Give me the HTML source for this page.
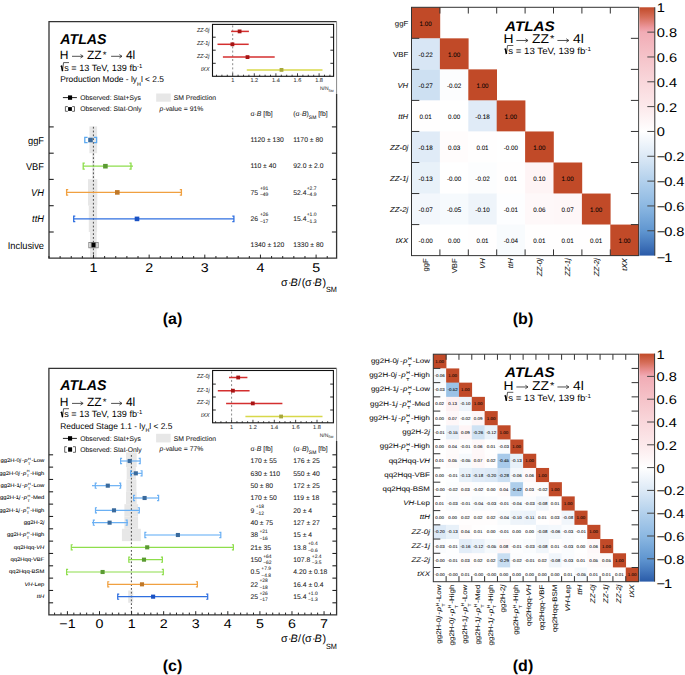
<!DOCTYPE html>
<html><head><meta charset="utf-8"><style>
html,body{margin:0;padding:0;background:#fff;}
svg{display:block;font-family:"Liberation Sans", sans-serif;text-rendering:geometricPrecision;}
</style></head><body>
<svg width="685" height="675" viewBox="0 0 685 675">
<rect x="89.4" y="126.4" width="7.7" height="26.8" fill="#e7e7e7"/>
<rect x="92.3" y="153.2" width="2.2" height="26.2" fill="#e7e7e7"/>
<rect x="88" y="179.2" width="9.3" height="26.4" fill="#e7e7e7"/>
<rect x="88.8" y="205.6" width="8.3" height="26.4" fill="#e7e7e7"/>
<rect x="90" y="232" width="6.7" height="26.2" fill="#e7e7e7"/>
<line x1="93.4" y1="126.8" x2="93.4" y2="258" stroke="#444" stroke-width="0.95" stroke-dasharray="1.8,2.0"/>
<path d="M336.6 94 V258.2 H49 V21.7 H336.6" fill="none" stroke="#333" stroke-width="1.3"/>
<line x1="336.6" y1="21.7" x2="336.6" y2="94" stroke="#888" stroke-width="1.0"/>
<line x1="49" y1="126.9" x2="53.7" y2="126.9" stroke="#222" stroke-width="1.1"/>
<line x1="331.9" y1="126.9" x2="336.6" y2="126.9" stroke="#222" stroke-width="1.1"/>
<line x1="49" y1="153.2" x2="53.7" y2="153.2" stroke="#222" stroke-width="1.1"/>
<line x1="331.9" y1="153.2" x2="336.6" y2="153.2" stroke="#222" stroke-width="1.1"/>
<line x1="49" y1="179.4" x2="53.7" y2="179.4" stroke="#222" stroke-width="1.1"/>
<line x1="331.9" y1="179.4" x2="336.6" y2="179.4" stroke="#222" stroke-width="1.1"/>
<line x1="49" y1="205.7" x2="53.7" y2="205.7" stroke="#222" stroke-width="1.1"/>
<line x1="331.9" y1="205.7" x2="336.6" y2="205.7" stroke="#222" stroke-width="1.1"/>
<line x1="49" y1="232" x2="53.7" y2="232" stroke="#222" stroke-width="1.1"/>
<line x1="331.9" y1="232" x2="336.6" y2="232" stroke="#222" stroke-width="1.1"/>
<line x1="48.98" y1="258.2" x2="48.98" y2="256" stroke="#222" stroke-width="1.0"/>
<line x1="60.11" y1="258.2" x2="60.11" y2="256" stroke="#222" stroke-width="1.0"/>
<line x1="71.24" y1="258.2" x2="71.24" y2="256" stroke="#222" stroke-width="1.0"/>
<line x1="82.37" y1="258.2" x2="82.37" y2="256" stroke="#222" stroke-width="1.0"/>
<line x1="93.5" y1="258.2" x2="93.5" y2="254.6" stroke="#222" stroke-width="1.0"/>
<line x1="104.63" y1="258.2" x2="104.63" y2="256" stroke="#222" stroke-width="1.0"/>
<line x1="115.76" y1="258.2" x2="115.76" y2="256" stroke="#222" stroke-width="1.0"/>
<line x1="126.89" y1="258.2" x2="126.89" y2="256" stroke="#222" stroke-width="1.0"/>
<line x1="138.02" y1="258.2" x2="138.02" y2="256" stroke="#222" stroke-width="1.0"/>
<line x1="149.15" y1="258.2" x2="149.15" y2="254.6" stroke="#222" stroke-width="1.0"/>
<line x1="160.28" y1="258.2" x2="160.28" y2="256" stroke="#222" stroke-width="1.0"/>
<line x1="171.41" y1="258.2" x2="171.41" y2="256" stroke="#222" stroke-width="1.0"/>
<line x1="182.54" y1="258.2" x2="182.54" y2="256" stroke="#222" stroke-width="1.0"/>
<line x1="193.67" y1="258.2" x2="193.67" y2="256" stroke="#222" stroke-width="1.0"/>
<line x1="204.8" y1="258.2" x2="204.8" y2="254.6" stroke="#222" stroke-width="1.0"/>
<line x1="215.93" y1="258.2" x2="215.93" y2="256" stroke="#222" stroke-width="1.0"/>
<line x1="227.06" y1="258.2" x2="227.06" y2="256" stroke="#222" stroke-width="1.0"/>
<line x1="238.19" y1="258.2" x2="238.19" y2="256" stroke="#222" stroke-width="1.0"/>
<line x1="249.32" y1="258.2" x2="249.32" y2="256" stroke="#222" stroke-width="1.0"/>
<line x1="260.45" y1="258.2" x2="260.45" y2="254.6" stroke="#222" stroke-width="1.0"/>
<line x1="271.58" y1="258.2" x2="271.58" y2="256" stroke="#222" stroke-width="1.0"/>
<line x1="282.71" y1="258.2" x2="282.71" y2="256" stroke="#222" stroke-width="1.0"/>
<line x1="293.84" y1="258.2" x2="293.84" y2="256" stroke="#222" stroke-width="1.0"/>
<line x1="304.97" y1="258.2" x2="304.97" y2="256" stroke="#222" stroke-width="1.0"/>
<line x1="316.1" y1="258.2" x2="316.1" y2="254.6" stroke="#222" stroke-width="1.0"/>
<line x1="327.23" y1="258.2" x2="327.23" y2="256" stroke="#222" stroke-width="1.0"/>
<text transform="translate(93.5,271.6) scale(1.13,1)" font-size="12.6" text-anchor="middle">1</text>
<text transform="translate(149.15,271.6) scale(1.13,1)" font-size="12.6" text-anchor="middle">2</text>
<text transform="translate(204.8,271.6) scale(1.13,1)" font-size="12.6" text-anchor="middle">3</text>
<text transform="translate(260.45,271.6) scale(1.13,1)" font-size="12.6" text-anchor="middle">4</text>
<text transform="translate(316.1,271.6) scale(1.13,1)" font-size="12.6" text-anchor="middle">5</text>
<text x="281" y="285.8" font-size="10.8">σ</text>
<text x="287.9" y="285.8" font-size="10.8">·</text>
<text x="290.6" y="285.8" font-size="10.8" font-style="italic">B</text>
<text x="297.9" y="285.8" font-size="10.8">/</text>
<text x="301.8" y="285.8" font-size="10.8">(</text>
<text x="305.1" y="285.8" font-size="10.8">σ</text>
<text x="312" y="285.8" font-size="10.8">·</text>
<text x="314.6" y="285.8" font-size="10.8" font-style="italic">B</text>
<text x="322.5" y="285.8" font-size="10.8">)</text>
<text x="325.9" y="292.2" font-size="7.6" textLength="11.0" lengthAdjust="spacingAndGlyphs">SM</text>
<text transform="translate(44,143.5) scale(0.95,1)" font-size="9.8" text-anchor="end">ggF</text>
<text transform="translate(44,169.8) scale(0.95,1)" font-size="9.8" text-anchor="end">VBF</text>
<text transform="translate(44,196.1) scale(0.95,1)" font-size="9.8" text-anchor="end" font-style="italic">VH</text>
<text transform="translate(44,222.3) scale(0.95,1)" font-size="9.8" text-anchor="end" font-style="italic">ttH</text>
<text transform="translate(44,248.6) scale(0.95,1)" font-size="9.8" text-anchor="end">Inclusive</text>
<line x1="84.8" y1="140" x2="96.6" y2="140" stroke="none" stroke-width="1.3"/>
<path d="M87.6 137.4 H84.8 V142.6 H87.6" fill="none" stroke="#5aa8f0" stroke-width="1.3"/>
<path d="M93.8 137.4 H96.6 V142.6 H93.8" fill="none" stroke="#5aa8f0" stroke-width="1.3"/>
<rect x="88.2" y="137.7" width="4.6" height="4.6" fill="#3a6a9c"/>
<line x1="83.2" y1="166.2" x2="133" y2="166.2" stroke="#8ede4c" stroke-width="1.3"/>
<path d="M84.8 163.2 H83.2 V169.2 H84.8" fill="none" stroke="#8ede4c" stroke-width="1.3"/>
<path d="M129.4 163.2 H131 V169.2 H129.4" fill="none" stroke="#8ede4c" stroke-width="1.3"/>
<rect x="103.1" y="163.9" width="4.6" height="4.6" fill="#5a9a32"/>
<line x1="66.6" y1="192.4" x2="181.4" y2="192.4" stroke="#f0a040" stroke-width="1.3"/>
<path d="M68.2 189.6 H66.6 V195.2 H68.2" fill="none" stroke="#f0a040" stroke-width="1.3"/>
<path d="M179.8 189.6 H181.4 V195.2 H179.8" fill="none" stroke="#f0a040" stroke-width="1.3"/>
<rect x="115" y="190.1" width="4.6" height="4.6" fill="#c07828"/>
<line x1="73.7" y1="218.9" x2="233.9" y2="218.9" stroke="#2f6fe0" stroke-width="1.3"/>
<path d="M75.3 216.1 H73.7 V221.7 H75.3" fill="none" stroke="#2f6fe0" stroke-width="1.3"/>
<path d="M232.3 216.1 H233.9 V221.7 H232.3" fill="none" stroke="#2f6fe0" stroke-width="1.3"/>
<rect x="134.7" y="216.6" width="4.6" height="4.6" fill="#1a52c4"/>
<rect x="88.8" y="242.4" width="9.4" height="5.4" fill="none" stroke="#777" stroke-width="0.8"/>
<path d="M90.2 242.4 V247.8 M96.8 242.4 V247.8" stroke="#999" stroke-width="0.6"/>
<rect x="91.4" y="242.7" width="4.2" height="4.6" fill="#000"/>
<text transform="translate(60.3,43.9) scale(1.0,1)" font-size="14.2" font-weight="bold" font-style="italic">ATLAS</text>
<text transform="translate(59.64,58.8) scale(1.0,1)" font-size="12">H</text>
<path d="M72 56.3 H83.1 M80.5 54.6 L83.1 56.3 L80.5 58" fill="none" stroke="#333" stroke-width="0.85"/>
<text transform="translate(86.96,58.8) scale(1.0,1)" font-size="12">ZZ</text>
<text transform="translate(102.8,57.8) scale(1.0,1)" font-size="9.6">*</text>
<path d="M111.1 56.3 H122 M119.4 54.6 L122 56.3 L119.4 58" fill="none" stroke="#333" stroke-width="0.85"/>
<text transform="translate(125.94,58.8) scale(1.0,1)" font-size="12">4l</text>
<path d="M60.5 66.4 L61.51 65.7 L62.53 71.1 L63.54 62.6 H69.02" fill="none" stroke="#222" stroke-width="0.75" stroke-linejoin="miter"/>
<path d="M61.51 65.7 L62.53 71.1" stroke="#000" stroke-width="1.5"/>
<text transform="translate(64.15,71.3) scale(1.015,1)" font-size="9">s = 13 TeV, 139 fb<tspan font-size="5.85" dy="-3.5">-1</tspan></text>
<text x="60.2" y="82.3" font-size="8.4">Production Mode - l<tspan font-style="normal">y</tspan><tspan font-size="5.4" dy="3.2">H</tspan><tspan dy="-3.2">l &lt; 2.5</tspan></text>
<line x1="62.9" y1="97.6" x2="76.9" y2="97.6" stroke="#222" stroke-width="1.0"/>
<rect x="68" y="95.4" width="4.1" height="4.4" fill="#000"/>
<text x="80.2" y="99.9" font-size="6.8" fill="#222" stroke="#222" stroke-width="0.06">Observed: Stat+Sys</text>
<path d="M67.8 106.6 H65.4 V111.3 H67.8 M72.2 106.6 H74.5 V111.3 H72.2" fill="none" stroke="#555" stroke-width="0.9"/>
<rect x="68.1" y="107.1" width="3.8" height="3.8" fill="#000"/>
<text x="80.2" y="111.2" font-size="6.8" fill="#222" stroke="#222" stroke-width="0.06">Observed: Stat-Only</text>
<rect x="156.2" y="93.5" width="14.5" height="8.2" fill="#e7e7e7"/>
<text x="173.7" y="99.9" font-size="6.8" fill="#222" stroke="#222" stroke-width="0.06">SM Prediction</text>
<text x="159.6" y="111" font-size="6.8" fill="#222" stroke="#222" stroke-width="0.06"><tspan font-style="italic">p</tspan>-value = 91%</text>
<text x="250.4" y="116.2" font-size="6.8" fill="#222" stroke="#222" stroke-width="0.06">σ·<tspan font-style="italic">B</tspan> [fb]</text>
<text x="293.3" y="116.2" font-size="6.8" fill="#222" stroke="#222" stroke-width="0.06">(σ·<tspan font-style="italic">B</tspan>)<tspan font-size="5.0" dy="3.0">SM</tspan><tspan dy="-3.0"> [fb]</tspan></text>
<text x="250.4" y="142.1" font-size="6.8" fill="#222" stroke="#222" stroke-width="0.06">1120 ± 130</text>
<text x="293.3" y="142.1" font-size="6.8" fill="#222" stroke="#222" stroke-width="0.06">1170 ± 80</text>
<text x="250.4" y="168.4" font-size="6.8" fill="#222" stroke="#222" stroke-width="0.06">110 ± 40</text>
<text x="293.3" y="168.4" font-size="6.8" fill="#222" stroke="#222" stroke-width="0.06">92.0 ± 2.0</text>
<text x="250.4" y="247.4" font-size="6.8" fill="#222" stroke="#222" stroke-width="0.06">1340 ± 120</text>
<text x="293.3" y="247.4" font-size="6.8" fill="#222" stroke="#222" stroke-width="0.06">1330 ± 80</text>
<text x="250.4" y="194.8" font-size="6.8" fill="#222" stroke="#222" stroke-width="0.06">75</text>
<text x="259.9" y="189.7" font-size="5" fill="#222" stroke="#222" stroke-width="0.06">+91</text>
<text x="259.9" y="196.4" font-size="5" fill="#222" stroke="#222" stroke-width="0.06">−49</text>
<text x="293.3" y="194.8" font-size="6.8" fill="#222" stroke="#222" stroke-width="0.06">52.4</text>
<text x="306.7" y="189.7" font-size="5" fill="#222" stroke="#222" stroke-width="0.06">+2.7</text>
<text x="306.7" y="196.4" font-size="5" fill="#222" stroke="#222" stroke-width="0.06">−4.9</text>
<text x="250.4" y="221.2" font-size="6.8" fill="#222" stroke="#222" stroke-width="0.06">26</text>
<text x="259.9" y="216.1" font-size="5" fill="#222" stroke="#222" stroke-width="0.06">+26</text>
<text x="259.9" y="222.8" font-size="5" fill="#222" stroke="#222" stroke-width="0.06">−17</text>
<text x="293.3" y="221.2" font-size="6.8" fill="#222" stroke="#222" stroke-width="0.06">15.4</text>
<text x="306.7" y="216.1" font-size="5" fill="#222" stroke="#222" stroke-width="0.06">+1.0</text>
<text x="306.7" y="222.8" font-size="5" fill="#222" stroke="#222" stroke-width="0.06">−1.3</text>
<rect x="212.5" y="24.4" width="121.1" height="51.9" fill="#fff" stroke="#111" stroke-width="1.1"/>
<line x1="232.7" y1="25.4" x2="232.7" y2="75.3" stroke="#8a8a8a" stroke-width="1" stroke-dasharray="2.0,2.2"/>
<line x1="231.1" y1="31.4" x2="248.9" y2="31.4" stroke="#d42f2f" stroke-width="1.5"/>
<rect x="237.7" y="29.5" width="3.8" height="3.8" fill="#a81414"/>
<line x1="217.5" y1="44.3" x2="248.7" y2="44.3" stroke="#d42f2f" stroke-width="1.5"/>
<rect x="230.5" y="42.4" width="3.8" height="3.8" fill="#a81414"/>
<line x1="222.9" y1="57.1" x2="274.7" y2="57.1" stroke="#d42f2f" stroke-width="1.5"/>
<rect x="245.6" y="55.2" width="3.8" height="3.8" fill="#a81414"/>
<line x1="246.8" y1="69.9" x2="322.5" y2="69.9" stroke="#d8d84a" stroke-width="1.5"/>
<rect x="279.6" y="68" width="3.8" height="3.8" fill="#a8a83a"/>
<line x1="212.5" y1="37.2" x2="215.7" y2="37.2" stroke="#111" stroke-width="0.9"/>
<line x1="330.4" y1="37.2" x2="333.6" y2="37.2" stroke="#111" stroke-width="0.9"/>
<line x1="212.5" y1="50.2" x2="215.7" y2="50.2" stroke="#111" stroke-width="0.9"/>
<line x1="330.4" y1="50.2" x2="333.6" y2="50.2" stroke="#111" stroke-width="0.9"/>
<line x1="212.5" y1="63.3" x2="215.7" y2="63.3" stroke="#111" stroke-width="0.9"/>
<line x1="330.4" y1="63.3" x2="333.6" y2="63.3" stroke="#111" stroke-width="0.9"/>
<line x1="216.5" y1="76.3" x2="216.5" y2="74.7" stroke="#111" stroke-width="0.8"/>
<line x1="221.9" y1="76.3" x2="221.9" y2="74.7" stroke="#111" stroke-width="0.8"/>
<line x1="227.3" y1="76.3" x2="227.3" y2="74.7" stroke="#111" stroke-width="0.8"/>
<line x1="232.7" y1="76.3" x2="232.7" y2="73.3" stroke="#111" stroke-width="0.8"/>
<line x1="238.1" y1="76.3" x2="238.1" y2="74.7" stroke="#111" stroke-width="0.8"/>
<line x1="243.5" y1="76.3" x2="243.5" y2="74.7" stroke="#111" stroke-width="0.8"/>
<line x1="248.9" y1="76.3" x2="248.9" y2="74.7" stroke="#111" stroke-width="0.8"/>
<line x1="254.3" y1="76.3" x2="254.3" y2="73.3" stroke="#111" stroke-width="0.8"/>
<line x1="259.7" y1="76.3" x2="259.7" y2="74.7" stroke="#111" stroke-width="0.8"/>
<line x1="265.1" y1="76.3" x2="265.1" y2="74.7" stroke="#111" stroke-width="0.8"/>
<line x1="270.5" y1="76.3" x2="270.5" y2="74.7" stroke="#111" stroke-width="0.8"/>
<line x1="275.9" y1="76.3" x2="275.9" y2="73.3" stroke="#111" stroke-width="0.8"/>
<line x1="281.3" y1="76.3" x2="281.3" y2="74.7" stroke="#111" stroke-width="0.8"/>
<line x1="286.7" y1="76.3" x2="286.7" y2="74.7" stroke="#111" stroke-width="0.8"/>
<line x1="292.1" y1="76.3" x2="292.1" y2="74.7" stroke="#111" stroke-width="0.8"/>
<line x1="297.5" y1="76.3" x2="297.5" y2="73.3" stroke="#111" stroke-width="0.8"/>
<line x1="302.9" y1="76.3" x2="302.9" y2="74.7" stroke="#111" stroke-width="0.8"/>
<line x1="308.3" y1="76.3" x2="308.3" y2="74.7" stroke="#111" stroke-width="0.8"/>
<line x1="313.7" y1="76.3" x2="313.7" y2="74.7" stroke="#111" stroke-width="0.8"/>
<line x1="319.1" y1="76.3" x2="319.1" y2="73.3" stroke="#111" stroke-width="0.8"/>
<line x1="324.5" y1="76.3" x2="324.5" y2="74.7" stroke="#111" stroke-width="0.8"/>
<line x1="329.9" y1="76.3" x2="329.9" y2="74.7" stroke="#111" stroke-width="0.8"/>
<text x="232.7" y="82.2" font-size="5.6" text-anchor="middle" fill="#333" stroke="#333" stroke-width="0.06">1</text>
<text x="254.3" y="82.2" font-size="5.6" text-anchor="middle" fill="#333" stroke="#333" stroke-width="0.06">1.2</text>
<text x="275.9" y="82.2" font-size="5.6" text-anchor="middle" fill="#333" stroke="#333" stroke-width="0.06">1.4</text>
<text x="297.5" y="82.2" font-size="5.6" text-anchor="middle" fill="#333" stroke="#333" stroke-width="0.06">1.6</text>
<text x="319.1" y="82.2" font-size="5.6" text-anchor="middle" fill="#333" stroke="#333" stroke-width="0.06">1.8</text>
<text x="333.6" y="90.3" font-size="5" text-anchor="end" fill="#444" stroke="#444" stroke-width="0.06">N/N<tspan font-size="3.4" dy="1.5">SM</tspan></text>
<text x="209.5" y="32.3" font-size="5.9" text-anchor="end" font-style="italic" fill="#333" textLength="12.6" lengthAdjust="spacingAndGlyphs" stroke="#333" stroke-width="0.06">ZZ-0j</text>
<text x="209.5" y="45.2" font-size="5.9" text-anchor="end" font-style="italic" fill="#333" textLength="12.6" lengthAdjust="spacingAndGlyphs" stroke="#333" stroke-width="0.06">ZZ-1j</text>
<text x="209.5" y="58" font-size="5.9" text-anchor="end" font-style="italic" fill="#333" textLength="12.6" lengthAdjust="spacingAndGlyphs" stroke="#333" stroke-width="0.06">ZZ-2j</text>
<text x="209.5" y="70.8" font-size="5.9" text-anchor="end" font-style="italic" fill="#333" textLength="8.6" lengthAdjust="spacingAndGlyphs" stroke="#333" stroke-width="0.06">tXX</text>
<text x="172.5" y="324.2" font-size="16" text-anchor="middle" font-weight="bold">(a)</text>
<rect x="126" y="452.3" width="10.7" height="14.84" fill="#e7e7e7"/>
<rect x="126.7" y="467.13" width="9.2" height="12.34" fill="#e7e7e7"/>
<rect x="126.3" y="479.47" width="10.1" height="12.34" fill="#e7e7e7"/>
<rect x="126" y="491.8" width="10.7" height="12.34" fill="#e7e7e7"/>
<rect x="124.4" y="504.13" width="13.7" height="12.34" fill="#e7e7e7"/>
<rect x="124.4" y="516.47" width="13.7" height="12.34" fill="#e7e7e7"/>
<rect x="121.9" y="528.8" width="18.9" height="12.34" fill="#e7e7e7"/>
<rect x="128.2" y="590.46" width="5" height="12.34" fill="#e7e7e7"/>
<line x1="131.4" y1="455" x2="131.4" y2="614.5" stroke="#444" stroke-width="0.95" stroke-dasharray="1.8,2.0"/>
<path d="M336.6 441 V614.8 H48.9 V368.4 H336.6" fill="none" stroke="#333" stroke-width="1.3"/>
<line x1="336.6" y1="368.4" x2="336.6" y2="441" stroke="#888" stroke-width="1.0"/>
<line x1="48.9" y1="454.8" x2="53.1" y2="454.8" stroke="#222" stroke-width="1.1"/>
<line x1="332.4" y1="454.8" x2="336.6" y2="454.8" stroke="#222" stroke-width="1.1"/>
<line x1="48.9" y1="467.13" x2="53.1" y2="467.13" stroke="#222" stroke-width="1.1"/>
<line x1="332.4" y1="467.13" x2="336.6" y2="467.13" stroke="#222" stroke-width="1.1"/>
<line x1="48.9" y1="479.47" x2="53.1" y2="479.47" stroke="#222" stroke-width="1.1"/>
<line x1="332.4" y1="479.47" x2="336.6" y2="479.47" stroke="#222" stroke-width="1.1"/>
<line x1="48.9" y1="491.8" x2="53.1" y2="491.8" stroke="#222" stroke-width="1.1"/>
<line x1="332.4" y1="491.8" x2="336.6" y2="491.8" stroke="#222" stroke-width="1.1"/>
<line x1="48.9" y1="504.13" x2="53.1" y2="504.13" stroke="#222" stroke-width="1.1"/>
<line x1="332.4" y1="504.13" x2="336.6" y2="504.13" stroke="#222" stroke-width="1.1"/>
<line x1="48.9" y1="516.47" x2="53.1" y2="516.47" stroke="#222" stroke-width="1.1"/>
<line x1="332.4" y1="516.47" x2="336.6" y2="516.47" stroke="#222" stroke-width="1.1"/>
<line x1="48.9" y1="528.8" x2="53.1" y2="528.8" stroke="#222" stroke-width="1.1"/>
<line x1="332.4" y1="528.8" x2="336.6" y2="528.8" stroke="#222" stroke-width="1.1"/>
<line x1="48.9" y1="541.13" x2="53.1" y2="541.13" stroke="#222" stroke-width="1.1"/>
<line x1="332.4" y1="541.13" x2="336.6" y2="541.13" stroke="#222" stroke-width="1.1"/>
<line x1="48.9" y1="553.46" x2="53.1" y2="553.46" stroke="#222" stroke-width="1.1"/>
<line x1="332.4" y1="553.46" x2="336.6" y2="553.46" stroke="#222" stroke-width="1.1"/>
<line x1="48.9" y1="565.8" x2="53.1" y2="565.8" stroke="#222" stroke-width="1.1"/>
<line x1="332.4" y1="565.8" x2="336.6" y2="565.8" stroke="#222" stroke-width="1.1"/>
<line x1="48.9" y1="578.13" x2="53.1" y2="578.13" stroke="#222" stroke-width="1.1"/>
<line x1="332.4" y1="578.13" x2="336.6" y2="578.13" stroke="#222" stroke-width="1.1"/>
<line x1="48.9" y1="590.46" x2="53.1" y2="590.46" stroke="#222" stroke-width="1.1"/>
<line x1="332.4" y1="590.46" x2="336.6" y2="590.46" stroke="#222" stroke-width="1.1"/>
<line x1="48.9" y1="602.8" x2="53.1" y2="602.8" stroke="#222" stroke-width="1.1"/>
<line x1="332.4" y1="602.8" x2="336.6" y2="602.8" stroke="#222" stroke-width="1.1"/>
<line x1="54.59" y1="614.8" x2="54.59" y2="612.6" stroke="#222" stroke-width="1.0"/>
<line x1="61" y1="614.8" x2="61" y2="612.6" stroke="#222" stroke-width="1.0"/>
<line x1="67.42" y1="614.8" x2="67.42" y2="611.2" stroke="#222" stroke-width="1.0"/>
<line x1="73.84" y1="614.8" x2="73.84" y2="612.6" stroke="#222" stroke-width="1.0"/>
<line x1="80.25" y1="614.8" x2="80.25" y2="612.6" stroke="#222" stroke-width="1.0"/>
<line x1="86.67" y1="614.8" x2="86.67" y2="612.6" stroke="#222" stroke-width="1.0"/>
<line x1="93.08" y1="614.8" x2="93.08" y2="612.6" stroke="#222" stroke-width="1.0"/>
<line x1="99.5" y1="614.8" x2="99.5" y2="611.2" stroke="#222" stroke-width="1.0"/>
<line x1="105.92" y1="614.8" x2="105.92" y2="612.6" stroke="#222" stroke-width="1.0"/>
<line x1="112.33" y1="614.8" x2="112.33" y2="612.6" stroke="#222" stroke-width="1.0"/>
<line x1="118.75" y1="614.8" x2="118.75" y2="612.6" stroke="#222" stroke-width="1.0"/>
<line x1="125.16" y1="614.8" x2="125.16" y2="612.6" stroke="#222" stroke-width="1.0"/>
<line x1="131.58" y1="614.8" x2="131.58" y2="611.2" stroke="#222" stroke-width="1.0"/>
<line x1="138" y1="614.8" x2="138" y2="612.6" stroke="#222" stroke-width="1.0"/>
<line x1="144.41" y1="614.8" x2="144.41" y2="612.6" stroke="#222" stroke-width="1.0"/>
<line x1="150.83" y1="614.8" x2="150.83" y2="612.6" stroke="#222" stroke-width="1.0"/>
<line x1="157.24" y1="614.8" x2="157.24" y2="612.6" stroke="#222" stroke-width="1.0"/>
<line x1="163.66" y1="614.8" x2="163.66" y2="611.2" stroke="#222" stroke-width="1.0"/>
<line x1="170.08" y1="614.8" x2="170.08" y2="612.6" stroke="#222" stroke-width="1.0"/>
<line x1="176.49" y1="614.8" x2="176.49" y2="612.6" stroke="#222" stroke-width="1.0"/>
<line x1="182.91" y1="614.8" x2="182.91" y2="612.6" stroke="#222" stroke-width="1.0"/>
<line x1="189.32" y1="614.8" x2="189.32" y2="612.6" stroke="#222" stroke-width="1.0"/>
<line x1="195.74" y1="614.8" x2="195.74" y2="611.2" stroke="#222" stroke-width="1.0"/>
<line x1="202.16" y1="614.8" x2="202.16" y2="612.6" stroke="#222" stroke-width="1.0"/>
<line x1="208.57" y1="614.8" x2="208.57" y2="612.6" stroke="#222" stroke-width="1.0"/>
<line x1="214.99" y1="614.8" x2="214.99" y2="612.6" stroke="#222" stroke-width="1.0"/>
<line x1="221.4" y1="614.8" x2="221.4" y2="612.6" stroke="#222" stroke-width="1.0"/>
<line x1="227.82" y1="614.8" x2="227.82" y2="611.2" stroke="#222" stroke-width="1.0"/>
<line x1="234.24" y1="614.8" x2="234.24" y2="612.6" stroke="#222" stroke-width="1.0"/>
<line x1="240.65" y1="614.8" x2="240.65" y2="612.6" stroke="#222" stroke-width="1.0"/>
<line x1="247.07" y1="614.8" x2="247.07" y2="612.6" stroke="#222" stroke-width="1.0"/>
<line x1="253.48" y1="614.8" x2="253.48" y2="612.6" stroke="#222" stroke-width="1.0"/>
<line x1="259.9" y1="614.8" x2="259.9" y2="611.2" stroke="#222" stroke-width="1.0"/>
<line x1="266.32" y1="614.8" x2="266.32" y2="612.6" stroke="#222" stroke-width="1.0"/>
<line x1="272.73" y1="614.8" x2="272.73" y2="612.6" stroke="#222" stroke-width="1.0"/>
<line x1="279.15" y1="614.8" x2="279.15" y2="612.6" stroke="#222" stroke-width="1.0"/>
<line x1="285.56" y1="614.8" x2="285.56" y2="612.6" stroke="#222" stroke-width="1.0"/>
<line x1="291.98" y1="614.8" x2="291.98" y2="611.2" stroke="#222" stroke-width="1.0"/>
<line x1="298.4" y1="614.8" x2="298.4" y2="612.6" stroke="#222" stroke-width="1.0"/>
<line x1="304.81" y1="614.8" x2="304.81" y2="612.6" stroke="#222" stroke-width="1.0"/>
<line x1="311.23" y1="614.8" x2="311.23" y2="612.6" stroke="#222" stroke-width="1.0"/>
<line x1="317.64" y1="614.8" x2="317.64" y2="612.6" stroke="#222" stroke-width="1.0"/>
<line x1="324.06" y1="614.8" x2="324.06" y2="611.2" stroke="#222" stroke-width="1.0"/>
<line x1="330.48" y1="614.8" x2="330.48" y2="612.6" stroke="#222" stroke-width="1.0"/>
<text transform="translate(67.42,628.2) scale(1.13,1)" font-size="12.6" text-anchor="middle">−1</text>
<text transform="translate(99.5,628.2) scale(1.13,1)" font-size="12.6" text-anchor="middle">0</text>
<text transform="translate(131.58,628.2) scale(1.13,1)" font-size="12.6" text-anchor="middle">1</text>
<text transform="translate(163.66,628.2) scale(1.13,1)" font-size="12.6" text-anchor="middle">2</text>
<text transform="translate(195.74,628.2) scale(1.13,1)" font-size="12.6" text-anchor="middle">3</text>
<text transform="translate(227.82,628.2) scale(1.13,1)" font-size="12.6" text-anchor="middle">4</text>
<text transform="translate(259.9,628.2) scale(1.13,1)" font-size="12.6" text-anchor="middle">5</text>
<text transform="translate(291.98,628.2) scale(1.13,1)" font-size="12.6" text-anchor="middle">6</text>
<text transform="translate(324.06,628.2) scale(1.13,1)" font-size="12.6" text-anchor="middle">7</text>
<text x="281" y="642.4" font-size="10.8">σ</text>
<text x="287.9" y="642.4" font-size="10.8">·</text>
<text x="290.6" y="642.4" font-size="10.8" font-style="italic">B</text>
<text x="297.9" y="642.4" font-size="10.8">/</text>
<text x="301.8" y="642.4" font-size="10.8">(</text>
<text x="305.1" y="642.4" font-size="10.8">σ</text>
<text x="312" y="642.4" font-size="10.8">·</text>
<text x="314.6" y="642.4" font-size="10.8" font-style="italic">B</text>
<text x="322.5" y="642.4" font-size="10.8">)</text>
<text x="325.9" y="648.8" font-size="7.6" textLength="11.0" lengthAdjust="spacingAndGlyphs">SM</text>
<text transform="translate(44.3,462.2) scale(1.13,1)" font-size="5.2" text-anchor="end" fill="#000" stroke="#000" stroke-width="0.06">gg2H-0<tspan font-style="italic">j</tspan><tspan dx="0.93">-</tspan><tspan dx="0.23" font-style="italic">p</tspan><tspan dx="0.39" font-size="3.34" dy="-2.17">H</tspan><tspan font-size="3.34" dx="-2.37" dy="5.04">T</tspan><tspan dx="1.05" dy="-2.87">-Low</tspan></text>
<text transform="translate(44.3,474.53) scale(1.13,1)" font-size="5.2" text-anchor="end" fill="#000" stroke="#000" stroke-width="0.06">gg2H-0<tspan font-style="italic">j</tspan><tspan dx="0.93">-</tspan><tspan dx="0.23" font-style="italic">p</tspan><tspan dx="0.39" font-size="3.34" dy="-2.17">H</tspan><tspan font-size="3.34" dx="-2.37" dy="5.04">T</tspan><tspan dx="1.05" dy="-2.87">-High</tspan></text>
<text transform="translate(44.3,486.87) scale(1.13,1)" font-size="5.2" text-anchor="end" fill="#000" stroke="#000" stroke-width="0.06">gg2H-1<tspan font-style="italic">j</tspan><tspan dx="0.93">-</tspan><tspan dx="0.23" font-style="italic">p</tspan><tspan dx="0.39" font-size="3.34" dy="-2.17">H</tspan><tspan font-size="3.34" dx="-2.37" dy="5.04">T</tspan><tspan dx="1.05" dy="-2.87">-Low</tspan></text>
<text transform="translate(44.3,499.2) scale(1.13,1)" font-size="5.2" text-anchor="end" fill="#000" stroke="#000" stroke-width="0.06">gg2H-1<tspan font-style="italic">j</tspan><tspan dx="0.93">-</tspan><tspan dx="0.23" font-style="italic">p</tspan><tspan dx="0.39" font-size="3.34" dy="-2.17">H</tspan><tspan font-size="3.34" dx="-2.37" dy="5.04">T</tspan><tspan dx="1.05" dy="-2.87">-Med</tspan></text>
<text transform="translate(44.3,511.53) scale(1.13,1)" font-size="5.2" text-anchor="end" fill="#000" stroke="#000" stroke-width="0.06">gg2H-1<tspan font-style="italic">j</tspan><tspan dx="0.93">-</tspan><tspan dx="0.23" font-style="italic">p</tspan><tspan dx="0.39" font-size="3.34" dy="-2.17">H</tspan><tspan font-size="3.34" dx="-2.37" dy="5.04">T</tspan><tspan dx="1.05" dy="-2.87">-High</tspan></text>
<text transform="translate(44.3,523.87) scale(1.13,1)" font-size="5.2" text-anchor="end" fill="#000" stroke="#000" stroke-width="0.06">gg2H-2<tspan font-style="italic">j</tspan></text>
<text transform="translate(44.3,536.2) scale(1.13,1)" font-size="5.2" text-anchor="end" fill="#000" stroke="#000" stroke-width="0.06">gg2H-<tspan font-style="italic">p</tspan><tspan dx="0.39" font-size="3.34" dy="-2.17">H</tspan><tspan font-size="3.34" dx="-2.37" dy="5.04">T</tspan><tspan dx="1.05" dy="-2.87">-High</tspan></text>
<text transform="translate(44.3,548.53) scale(1.13,1)" font-size="5.2" text-anchor="end" fill="#000" stroke="#000" stroke-width="0.06">qq2Hqq-<tspan font-style="italic">VH</tspan></text>
<text transform="translate(44.3,560.86) scale(1.13,1)" font-size="5.2" text-anchor="end" fill="#000" stroke="#000" stroke-width="0.06">qq2Hqq-VBF</text>
<text transform="translate(44.3,573.2) scale(1.13,1)" font-size="5.2" text-anchor="end" fill="#000" stroke="#000" stroke-width="0.06">qq2Hqq-BSM</text>
<text transform="translate(44.3,585.53) scale(1.13,1)" font-size="5.2" text-anchor="end" fill="#000" stroke="#000" stroke-width="0.06"><tspan font-style="italic">VH</tspan>-Lep</text>
<text transform="translate(44.3,597.86) scale(1.13,1)" font-size="5.2" text-anchor="end" fill="#000" stroke="#000" stroke-width="0.06"><tspan font-style="italic">ttH</tspan></text>
<line x1="120.6" y1="461" x2="140.2" y2="461" stroke="#6ab0f4" stroke-width="1.2"/>
<path d="M122.1 458.4 H120.6 V463.6 H122.1" fill="none" stroke="#6ab0f4" stroke-width="1.2"/>
<path d="M138.7 458.4 H140.2 V463.6 H138.7" fill="none" stroke="#6ab0f4" stroke-width="1.2"/>
<rect x="127.65" y="458.95" width="4.1" height="4.1" fill="#3a6a9c"/>
<line x1="130.6" y1="473.33" x2="142" y2="473.33" stroke="#6ab0f4" stroke-width="1.2"/>
<path d="M132.1 470.73 H130.6 V475.93 H132.1" fill="none" stroke="#6ab0f4" stroke-width="1.2"/>
<path d="M140.5 470.73 H142 V475.93 H140.5" fill="none" stroke="#6ab0f4" stroke-width="1.2"/>
<rect x="133.75" y="471.28" width="4.1" height="4.1" fill="#3a6a9c"/>
<line x1="92" y1="485.67" x2="121.5" y2="485.67" stroke="#6ab0f4" stroke-width="1.2"/>
<path d="M96.8 483.07 H95.3 V488.27 H96.8" fill="none" stroke="#6ab0f4" stroke-width="1.2"/>
<path d="M119.1 483.07 H120.6 V488.27 H119.1" fill="none" stroke="#6ab0f4" stroke-width="1.2"/>
<rect x="105.75" y="483.62" width="4.1" height="4.1" fill="#3a6a9c"/>
<line x1="133.6" y1="498" x2="158.6" y2="498" stroke="#6ab0f4" stroke-width="1.2"/>
<path d="M135.1 495.4 H133.6 V500.6 H135.1" fill="none" stroke="#6ab0f4" stroke-width="1.2"/>
<path d="M157.1 495.4 H158.6 V500.6 H157.1" fill="none" stroke="#6ab0f4" stroke-width="1.2"/>
<rect x="142.55" y="495.95" width="4.1" height="4.1" fill="#3a6a9c"/>
<line x1="95.5" y1="510.33" x2="139.3" y2="510.33" stroke="#6ab0f4" stroke-width="1.2"/>
<path d="M97 507.73 H95.5 V512.93 H97" fill="none" stroke="#6ab0f4" stroke-width="1.2"/>
<path d="M137.8 507.73 H139.3 V512.93 H137.8" fill="none" stroke="#6ab0f4" stroke-width="1.2"/>
<rect x="111.95" y="508.28" width="4.1" height="4.1" fill="#3a6a9c"/>
<line x1="92" y1="522.66" x2="128" y2="522.66" stroke="#6ab0f4" stroke-width="1.2"/>
<path d="M94.9 520.06 H93.4 V525.26 H94.9" fill="none" stroke="#6ab0f4" stroke-width="1.2"/>
<path d="M125.6 520.06 H127.1 V525.26 H125.6" fill="none" stroke="#6ab0f4" stroke-width="1.2"/>
<rect x="107.55" y="520.62" width="4.1" height="4.1" fill="#3a6a9c"/>
<line x1="144.9" y1="535" x2="220.8" y2="535" stroke="#acd4fa" stroke-width="1.9"/>
<path d="M146.4 532.4 H144.9 V537.6 H146.4" fill="none" stroke="#6ab0f4" stroke-width="1.2"/>
<path d="M219.3 532.4 H220.8 V537.6 H219.3" fill="none" stroke="#6ab0f4" stroke-width="1.2"/>
<rect x="175.85" y="532.95" width="4.1" height="4.1" fill="#3a6a9c"/>
<line x1="71.3" y1="547.33" x2="233.4" y2="547.33" stroke="#8ede4c" stroke-width="1.2"/>
<path d="M72.8 544.73 H71.3 V549.93 H72.8" fill="none" stroke="#8ede4c" stroke-width="1.2"/>
<path d="M231.9 544.73 H233.4 V549.93 H231.9" fill="none" stroke="#8ede4c" stroke-width="1.2"/>
<rect x="145.15" y="545.28" width="4.1" height="4.1" fill="#5a9a32"/>
<line x1="128.8" y1="559.66" x2="162.4" y2="559.66" stroke="#8ede4c" stroke-width="1.2"/>
<path d="M130.3 557.06 H128.8 V562.26 H130.3" fill="none" stroke="#8ede4c" stroke-width="1.2"/>
<path d="M160.9 557.06 H162.4 V562.26 H160.9" fill="none" stroke="#8ede4c" stroke-width="1.2"/>
<rect x="141.95" y="557.61" width="4.1" height="4.1" fill="#5a9a32"/>
<line x1="66.6" y1="572" x2="163.3" y2="572" stroke="#8ede4c" stroke-width="1.2"/>
<path d="M68.1 569.4 H66.6 V574.6 H68.1" fill="none" stroke="#8ede4c" stroke-width="1.2"/>
<path d="M161.8 569.4 H163.3 V574.6 H161.8" fill="none" stroke="#8ede4c" stroke-width="1.2"/>
<rect x="100.55" y="569.95" width="4.1" height="4.1" fill="#5a9a32"/>
<line x1="107.8" y1="584.33" x2="197.4" y2="584.33" stroke="#f0a040" stroke-width="1.2"/>
<path d="M109.3 581.73 H107.8 V586.93 H109.3" fill="none" stroke="#f0a040" stroke-width="1.2"/>
<path d="M195.9 581.73 H197.4 V586.93 H195.9" fill="none" stroke="#f0a040" stroke-width="1.2"/>
<rect x="139.95" y="582.28" width="4.1" height="4.1" fill="#c07828"/>
<line x1="117.7" y1="596.66" x2="207.7" y2="596.66" stroke="#2f6fe0" stroke-width="1.2"/>
<path d="M119.2 594.06 H117.7 V599.26 H119.2" fill="none" stroke="#2f6fe0" stroke-width="1.2"/>
<path d="M206.2 594.06 H207.7 V599.26 H206.2" fill="none" stroke="#2f6fe0" stroke-width="1.2"/>
<rect x="151.05" y="594.61" width="4.1" height="4.1" fill="#1a52c4"/>
<text transform="translate(60.3,390.4) scale(1.0,1)" font-size="14.2" font-weight="bold" font-style="italic">ATLAS</text>
<text transform="translate(59.64,405.9) scale(1.0,1)" font-size="12">H</text>
<path d="M72 403.4 H83.1 M80.5 401.7 L83.1 403.4 L80.5 405.1" fill="none" stroke="#333" stroke-width="0.85"/>
<text transform="translate(86.96,405.9) scale(1.0,1)" font-size="12">ZZ</text>
<text transform="translate(102.8,404.9) scale(1.0,1)" font-size="9.6">*</text>
<path d="M111.1 403.4 H122 M119.4 401.7 L122 403.4 L119.4 405.1" fill="none" stroke="#333" stroke-width="0.85"/>
<text transform="translate(125.94,405.9) scale(1.0,1)" font-size="12">4l</text>
<path d="M60.5 412.5 L61.51 411.8 L62.53 417.2 L63.54 408.7 H69.02" fill="none" stroke="#222" stroke-width="0.75" stroke-linejoin="miter"/>
<path d="M61.51 411.8 L62.53 417.2" stroke="#000" stroke-width="1.5"/>
<text transform="translate(64.15,417.4) scale(1.015,1)" font-size="9">s = 13 TeV, 139 fb<tspan font-size="5.85" dy="-3.5">-1</tspan></text>
<text x="60.2" y="428.6" font-size="8.4">Reduced Stage 1.1 - l<tspan font-style="normal">y</tspan><tspan font-size="5.4" dy="3.2">H</tspan><tspan dy="-3.2">l &lt; 2.5</tspan></text>
<line x1="62.9" y1="438.4" x2="76.9" y2="438.4" stroke="#222" stroke-width="1.0"/>
<rect x="68" y="436.2" width="4.1" height="4.4" fill="#000"/>
<text x="80.2" y="440.6" font-size="6.8" fill="#222" stroke="#222" stroke-width="0.06">Observed: Stat+Sys</text>
<path d="M66.8 446.7 H64.7 V452.3 H66.8 M73.0 446.7 H75.5 V452.3 H73.0" fill="none" stroke="#555" stroke-width="0.9"/>
<rect x="68.1" y="447.3" width="4" height="4.4" fill="#000"/>
<text x="80.2" y="451.8" font-size="6.8" fill="#222" stroke="#222" stroke-width="0.06">Observed: Stat-Only</text>
<rect x="156.1" y="433.8" width="14.5" height="8.6" fill="#e7e7e7"/>
<text x="173.7" y="440.6" font-size="6.8" fill="#222" stroke="#222" stroke-width="0.06">SM Prediction</text>
<text x="159.6" y="450.7" font-size="6.8" fill="#222" stroke="#222" stroke-width="0.06"><tspan font-style="italic">p</tspan>-value = 77%</text>
<text x="250.4" y="450.8" font-size="6.8" fill="#222" stroke="#222" stroke-width="0.06">σ·<tspan font-style="italic">B</tspan> [fb]</text>
<text x="293.3" y="450.8" font-size="6.8" fill="#222" stroke="#222" stroke-width="0.06">(σ·<tspan font-style="italic">B</tspan>)<tspan font-size="5.0" dy="3.0">SM</tspan><tspan dy="-3.0"> [fb]</tspan></text>
<text x="250.4" y="463.4" font-size="6.8" fill="#222" stroke="#222" stroke-width="0.06">170 ± 55</text>
<text x="250.4" y="475.73" font-size="6.8" fill="#222" stroke="#222" stroke-width="0.06">630 ± 110</text>
<text x="250.4" y="488.07" font-size="6.8" fill="#222" stroke="#222" stroke-width="0.06">50 ± 80</text>
<text x="250.4" y="500.4" font-size="6.8" fill="#222" stroke="#222" stroke-width="0.06">170 ± 50</text>
<text x="250.4" y="512.73" font-size="6.8" fill="#222" stroke="#222" stroke-width="0.06">9</text>
<text x="255.68" y="508.43" font-size="4.9" fill="#222" stroke="#222" stroke-width="0.06">+18</text>
<text x="255.68" y="515.03" font-size="4.9" fill="#222" stroke="#222" stroke-width="0.06">−12</text>
<text x="250.4" y="525.06" font-size="6.8" fill="#222" stroke="#222" stroke-width="0.06">40 ± 75</text>
<text x="250.4" y="537.4" font-size="6.8" fill="#222" stroke="#222" stroke-width="0.06">38</text>
<text x="259.46" y="533.1" font-size="4.9" fill="#222" stroke="#222" stroke-width="0.06">+21</text>
<text x="259.46" y="539.7" font-size="4.9" fill="#222" stroke="#222" stroke-width="0.06">−16</text>
<text x="250.4" y="549.73" font-size="6.8" fill="#222" stroke="#222" stroke-width="0.06">21± 35</text>
<text x="250.4" y="562.06" font-size="6.8" fill="#222" stroke="#222" stroke-width="0.06">150</text>
<text x="263.24" y="557.76" font-size="4.9" fill="#222" stroke="#222" stroke-width="0.06">+64</text>
<text x="263.24" y="564.36" font-size="4.9" fill="#222" stroke="#222" stroke-width="0.06">−62</text>
<text x="250.4" y="574.4" font-size="6.8" fill="#222" stroke="#222" stroke-width="0.06">0.5</text>
<text x="261.35" y="570.1" font-size="4.9" fill="#222" stroke="#222" stroke-width="0.06">+7.9</text>
<text x="261.35" y="576.7" font-size="4.9" fill="#222" stroke="#222" stroke-width="0.06">−4.8</text>
<text x="250.4" y="586.73" font-size="6.8" fill="#222" stroke="#222" stroke-width="0.06">22</text>
<text x="259.46" y="582.43" font-size="4.9" fill="#222" stroke="#222" stroke-width="0.06">+28</text>
<text x="259.46" y="589.03" font-size="4.9" fill="#222" stroke="#222" stroke-width="0.06">−18</text>
<text x="250.4" y="599.06" font-size="6.8" fill="#222" stroke="#222" stroke-width="0.06">25</text>
<text x="259.46" y="594.76" font-size="4.9" fill="#222" stroke="#222" stroke-width="0.06">+26</text>
<text x="259.46" y="601.36" font-size="4.9" fill="#222" stroke="#222" stroke-width="0.06">−17</text>
<text x="293.3" y="463.4" font-size="6.8" fill="#222" stroke="#222" stroke-width="0.06">176 ± 25</text>
<text x="293.3" y="475.73" font-size="6.8" fill="#222" stroke="#222" stroke-width="0.06">550 ± 40</text>
<text x="293.3" y="488.07" font-size="6.8" fill="#222" stroke="#222" stroke-width="0.06">172 ± 25</text>
<text x="293.3" y="500.4" font-size="6.8" fill="#222" stroke="#222" stroke-width="0.06">119 ± 18</text>
<text x="293.3" y="512.73" font-size="6.8" fill="#222" stroke="#222" stroke-width="0.06">20 ± 4</text>
<text x="293.3" y="525.06" font-size="6.8" fill="#222" stroke="#222" stroke-width="0.06">127 ± 27</text>
<text x="293.3" y="537.4" font-size="6.8" fill="#222" stroke="#222" stroke-width="0.06">15 ± 4</text>
<text x="293.3" y="549.73" font-size="6.8" fill="#222" stroke="#222" stroke-width="0.06">13.8</text>
<text x="308.03" y="545.43" font-size="4.9" fill="#222" stroke="#222" stroke-width="0.06">+0.4</text>
<text x="308.03" y="552.03" font-size="4.9" fill="#222" stroke="#222" stroke-width="0.06">−0.6</text>
<text x="293.3" y="562.06" font-size="6.8" fill="#222" stroke="#222" stroke-width="0.06">107.8</text>
<text x="311.82" y="557.76" font-size="4.9" fill="#222" stroke="#222" stroke-width="0.06">+2.4</text>
<text x="311.82" y="564.36" font-size="4.9" fill="#222" stroke="#222" stroke-width="0.06">−3.5</text>
<text x="293.3" y="574.4" font-size="6.8" fill="#222" stroke="#222" stroke-width="0.06">4.20 ± 0.18</text>
<text x="293.3" y="586.73" font-size="6.8" fill="#222" stroke="#222" stroke-width="0.06">16.4 ± 0.4</text>
<text x="293.3" y="599.06" font-size="6.8" fill="#222" stroke="#222" stroke-width="0.06">15.4</text>
<text x="308.03" y="594.76" font-size="4.9" fill="#222" stroke="#222" stroke-width="0.06">+1.0</text>
<text x="308.03" y="601.36" font-size="4.9" fill="#222" stroke="#222" stroke-width="0.06">−1.3</text>
<rect x="212.6" y="370.5" width="120.8" height="52.3" fill="#fff" stroke="#111" stroke-width="1.1"/>
<line x1="231.6" y1="371.5" x2="231.6" y2="421.8" stroke="#8a8a8a" stroke-width="1" stroke-dasharray="2.0,2.2"/>
<line x1="229" y1="377.5" x2="247.4" y2="377.5" stroke="#d42f2f" stroke-width="1.5"/>
<rect x="236.3" y="375.6" width="3.8" height="3.8" fill="#a81414"/>
<line x1="217.8" y1="390.7" x2="249.6" y2="390.7" stroke="#d42f2f" stroke-width="1.5"/>
<rect x="231" y="388.8" width="3.8" height="3.8" fill="#a81414"/>
<line x1="226.1" y1="403.4" x2="282.4" y2="403.4" stroke="#d42f2f" stroke-width="1.5"/>
<rect x="250.9" y="401.5" width="3.8" height="3.8" fill="#a81414"/>
<line x1="245.4" y1="416.5" x2="322.5" y2="416.5" stroke="#d8d84a" stroke-width="1.5"/>
<rect x="279.2" y="414.6" width="3.8" height="3.8" fill="#a8a83a"/>
<line x1="212.6" y1="384.1" x2="215.8" y2="384.1" stroke="#111" stroke-width="0.9"/>
<line x1="330.2" y1="384.1" x2="333.4" y2="384.1" stroke="#111" stroke-width="0.9"/>
<line x1="212.6" y1="397" x2="215.8" y2="397" stroke="#111" stroke-width="0.9"/>
<line x1="330.2" y1="397" x2="333.4" y2="397" stroke="#111" stroke-width="0.9"/>
<line x1="212.6" y1="410" x2="215.8" y2="410" stroke="#111" stroke-width="0.9"/>
<line x1="330.2" y1="410" x2="333.4" y2="410" stroke="#111" stroke-width="0.9"/>
<line x1="215.59" y1="422.8" x2="215.59" y2="421.2" stroke="#111" stroke-width="0.8"/>
<line x1="220.93" y1="422.8" x2="220.93" y2="421.2" stroke="#111" stroke-width="0.8"/>
<line x1="226.26" y1="422.8" x2="226.26" y2="421.2" stroke="#111" stroke-width="0.8"/>
<line x1="231.6" y1="422.8" x2="231.6" y2="419.8" stroke="#111" stroke-width="0.8"/>
<line x1="236.94" y1="422.8" x2="236.94" y2="421.2" stroke="#111" stroke-width="0.8"/>
<line x1="242.28" y1="422.8" x2="242.28" y2="421.2" stroke="#111" stroke-width="0.8"/>
<line x1="247.61" y1="422.8" x2="247.61" y2="421.2" stroke="#111" stroke-width="0.8"/>
<line x1="252.95" y1="422.8" x2="252.95" y2="419.8" stroke="#111" stroke-width="0.8"/>
<line x1="258.29" y1="422.8" x2="258.29" y2="421.2" stroke="#111" stroke-width="0.8"/>
<line x1="263.62" y1="422.8" x2="263.62" y2="421.2" stroke="#111" stroke-width="0.8"/>
<line x1="268.96" y1="422.8" x2="268.96" y2="421.2" stroke="#111" stroke-width="0.8"/>
<line x1="274.3" y1="422.8" x2="274.3" y2="419.8" stroke="#111" stroke-width="0.8"/>
<line x1="279.64" y1="422.8" x2="279.64" y2="421.2" stroke="#111" stroke-width="0.8"/>
<line x1="284.98" y1="422.8" x2="284.98" y2="421.2" stroke="#111" stroke-width="0.8"/>
<line x1="290.31" y1="422.8" x2="290.31" y2="421.2" stroke="#111" stroke-width="0.8"/>
<line x1="295.65" y1="422.8" x2="295.65" y2="419.8" stroke="#111" stroke-width="0.8"/>
<line x1="300.99" y1="422.8" x2="300.99" y2="421.2" stroke="#111" stroke-width="0.8"/>
<line x1="306.32" y1="422.8" x2="306.32" y2="421.2" stroke="#111" stroke-width="0.8"/>
<line x1="311.66" y1="422.8" x2="311.66" y2="421.2" stroke="#111" stroke-width="0.8"/>
<line x1="317" y1="422.8" x2="317" y2="419.8" stroke="#111" stroke-width="0.8"/>
<line x1="322.34" y1="422.8" x2="322.34" y2="421.2" stroke="#111" stroke-width="0.8"/>
<line x1="327.67" y1="422.8" x2="327.67" y2="421.2" stroke="#111" stroke-width="0.8"/>
<text x="231.6" y="428.7" font-size="5.6" text-anchor="middle" fill="#333" stroke="#333" stroke-width="0.06">1</text>
<text x="252.95" y="428.7" font-size="5.6" text-anchor="middle" fill="#333" stroke="#333" stroke-width="0.06">1.2</text>
<text x="274.3" y="428.7" font-size="5.6" text-anchor="middle" fill="#333" stroke="#333" stroke-width="0.06">1.4</text>
<text x="295.65" y="428.7" font-size="5.6" text-anchor="middle" fill="#333" stroke="#333" stroke-width="0.06">1.6</text>
<text x="317" y="428.7" font-size="5.6" text-anchor="middle" fill="#333" stroke="#333" stroke-width="0.06">1.8</text>
<text x="333.4" y="436.8" font-size="5" text-anchor="end" fill="#444" stroke="#444" stroke-width="0.06">N/N<tspan font-size="3.4" dy="1.5">SM</tspan></text>
<text x="209.6" y="378.4" font-size="5.9" text-anchor="end" font-style="italic" fill="#333" textLength="12.6" lengthAdjust="spacingAndGlyphs" stroke="#333" stroke-width="0.06">ZZ-0j</text>
<text x="209.6" y="391.6" font-size="5.9" text-anchor="end" font-style="italic" fill="#333" textLength="12.6" lengthAdjust="spacingAndGlyphs" stroke="#333" stroke-width="0.06">ZZ-1j</text>
<text x="209.6" y="404.3" font-size="5.9" text-anchor="end" font-style="italic" fill="#333" textLength="12.6" lengthAdjust="spacingAndGlyphs" stroke="#333" stroke-width="0.06">ZZ-2j</text>
<text x="209.6" y="417.4" font-size="5.9" text-anchor="end" font-style="italic" fill="#333" textLength="8.6" lengthAdjust="spacingAndGlyphs" stroke="#333" stroke-width="0.06">tXX</text>
<text x="172.5" y="671.2" font-size="16" text-anchor="middle" font-weight="bold">(c)</text>
<rect x="411.5" y="7.3" width="28.7" height="31.34" fill="#c14a28"/>
<rect x="411.5" y="38.34" width="28.7" height="31.34" fill="#d8e6f5"/>
<rect x="439.9" y="38.34" width="28.7" height="31.34" fill="#c14a28"/>
<rect x="411.5" y="69.38" width="28.7" height="31.34" fill="#cde0f2"/>
<rect x="439.9" y="69.38" width="28.7" height="31.34" fill="#fcfdfe"/>
<rect x="468.3" y="69.38" width="28.7" height="31.34" fill="#c14a28"/>
<rect x="411.5" y="100.42" width="28.7" height="31.34" fill="#fffefe"/>
<rect x="439.9" y="100.42" width="28.7" height="31.34" fill="#ffffff"/>
<rect x="468.3" y="100.42" width="28.7" height="31.34" fill="#e0ebf7"/>
<rect x="496.7" y="100.42" width="28.7" height="31.34" fill="#c14a28"/>
<rect x="411.5" y="131.46" width="28.7" height="31.34" fill="#e0ebf7"/>
<rect x="439.9" y="131.46" width="28.7" height="31.34" fill="#fffcfc"/>
<rect x="468.3" y="131.46" width="28.7" height="31.34" fill="#fffefe"/>
<rect x="496.7" y="131.46" width="28.7" height="31.34" fill="#ffffff"/>
<rect x="525.1" y="131.46" width="28.7" height="31.34" fill="#c14a28"/>
<rect x="411.5" y="162.5" width="28.7" height="31.34" fill="#e8f1f9"/>
<rect x="439.9" y="162.5" width="28.7" height="31.34" fill="#ffffff"/>
<rect x="468.3" y="162.5" width="28.7" height="31.34" fill="#fcfdfe"/>
<rect x="496.7" y="162.5" width="28.7" height="31.34" fill="#fffefe"/>
<rect x="525.1" y="162.5" width="28.7" height="31.34" fill="#fef4f5"/>
<rect x="553.5" y="162.5" width="28.7" height="31.34" fill="#c14a28"/>
<rect x="411.5" y="193.54" width="28.7" height="31.34" fill="#f3f7fc"/>
<rect x="439.9" y="193.54" width="28.7" height="31.34" fill="#f6fafd"/>
<rect x="468.3" y="193.54" width="28.7" height="31.34" fill="#eef4fa"/>
<rect x="496.7" y="193.54" width="28.7" height="31.34" fill="#fdfeff"/>
<rect x="525.1" y="193.54" width="28.7" height="31.34" fill="#fef8f9"/>
<rect x="553.5" y="193.54" width="28.7" height="31.34" fill="#fef7f8"/>
<rect x="581.9" y="193.54" width="28.7" height="31.34" fill="#c14a28"/>
<rect x="411.5" y="224.58" width="28.7" height="31.34" fill="#ffffff"/>
<rect x="439.9" y="224.58" width="28.7" height="31.34" fill="#ffffff"/>
<rect x="468.3" y="224.58" width="28.7" height="31.34" fill="#fffefe"/>
<rect x="496.7" y="224.58" width="28.7" height="31.34" fill="#f8fbfd"/>
<rect x="525.1" y="224.58" width="28.7" height="31.34" fill="#fffefe"/>
<rect x="553.5" y="224.58" width="28.7" height="31.34" fill="#fffefe"/>
<rect x="581.9" y="224.58" width="28.7" height="31.34" fill="#fffefe"/>
<rect x="610.3" y="224.58" width="28.7" height="31.34" fill="#c14a28"/>
<rect x="411.5" y="7.3" width="227.2" height="248.32" fill="none" stroke="#333" stroke-width="1.0"/>
<line x1="411.5" y1="38.34" x2="419.3" y2="38.34" stroke="#333" stroke-width="1.0"/>
<line x1="630.9" y1="38.34" x2="638.7" y2="38.34" stroke="#333" stroke-width="1.0"/>
<line x1="439.9" y1="7.3" x2="439.9" y2="13.54" stroke="#333" stroke-width="1.0"/>
<line x1="439.9" y1="255.62" x2="439.9" y2="249.38" stroke="#333" stroke-width="1.0"/>
<line x1="411.5" y1="69.38" x2="419.3" y2="69.38" stroke="#333" stroke-width="1.0"/>
<line x1="630.9" y1="69.38" x2="638.7" y2="69.38" stroke="#333" stroke-width="1.0"/>
<line x1="468.3" y1="7.3" x2="468.3" y2="13.54" stroke="#333" stroke-width="1.0"/>
<line x1="468.3" y1="255.62" x2="468.3" y2="249.38" stroke="#333" stroke-width="1.0"/>
<line x1="411.5" y1="100.42" x2="419.3" y2="100.42" stroke="#333" stroke-width="1.0"/>
<line x1="630.9" y1="100.42" x2="638.7" y2="100.42" stroke="#333" stroke-width="1.0"/>
<line x1="496.7" y1="7.3" x2="496.7" y2="13.54" stroke="#333" stroke-width="1.0"/>
<line x1="496.7" y1="255.62" x2="496.7" y2="249.38" stroke="#333" stroke-width="1.0"/>
<line x1="411.5" y1="131.46" x2="419.3" y2="131.46" stroke="#333" stroke-width="1.0"/>
<line x1="630.9" y1="131.46" x2="638.7" y2="131.46" stroke="#333" stroke-width="1.0"/>
<line x1="525.1" y1="7.3" x2="525.1" y2="13.54" stroke="#333" stroke-width="1.0"/>
<line x1="525.1" y1="255.62" x2="525.1" y2="249.38" stroke="#333" stroke-width="1.0"/>
<line x1="411.5" y1="162.5" x2="419.3" y2="162.5" stroke="#333" stroke-width="1.0"/>
<line x1="630.9" y1="162.5" x2="638.7" y2="162.5" stroke="#333" stroke-width="1.0"/>
<line x1="553.5" y1="7.3" x2="553.5" y2="13.54" stroke="#333" stroke-width="1.0"/>
<line x1="553.5" y1="255.62" x2="553.5" y2="249.38" stroke="#333" stroke-width="1.0"/>
<line x1="411.5" y1="193.54" x2="419.3" y2="193.54" stroke="#333" stroke-width="1.0"/>
<line x1="630.9" y1="193.54" x2="638.7" y2="193.54" stroke="#333" stroke-width="1.0"/>
<line x1="581.9" y1="7.3" x2="581.9" y2="13.54" stroke="#333" stroke-width="1.0"/>
<line x1="581.9" y1="255.62" x2="581.9" y2="249.38" stroke="#333" stroke-width="1.0"/>
<line x1="411.5" y1="224.58" x2="419.3" y2="224.58" stroke="#333" stroke-width="1.0"/>
<line x1="630.9" y1="224.58" x2="638.7" y2="224.58" stroke="#333" stroke-width="1.0"/>
<line x1="610.3" y1="7.3" x2="610.3" y2="13.54" stroke="#333" stroke-width="1.0"/>
<line x1="610.3" y1="255.62" x2="610.3" y2="249.38" stroke="#333" stroke-width="1.0"/>
<text transform="translate(425.7,25.72) scale(0.98,1)" font-size="6.4" text-anchor="middle" fill="#000" stroke="#000" stroke-width="0.05">1.00</text>
<text transform="translate(425.7,56.76) scale(0.98,1)" font-size="6.4" text-anchor="middle" fill="#000" stroke="#000" stroke-width="0.05">-0.22</text>
<text transform="translate(454.1,56.76) scale(0.98,1)" font-size="6.4" text-anchor="middle" fill="#000" stroke="#000" stroke-width="0.05">1.00</text>
<text transform="translate(425.7,87.8) scale(0.98,1)" font-size="6.4" text-anchor="middle" fill="#000" stroke="#000" stroke-width="0.05">-0.27</text>
<text transform="translate(454.1,87.8) scale(0.98,1)" font-size="6.4" text-anchor="middle" fill="#000" stroke="#000" stroke-width="0.05">-0.02</text>
<text transform="translate(482.5,87.8) scale(0.98,1)" font-size="6.4" text-anchor="middle" fill="#000" stroke="#000" stroke-width="0.05">1.00</text>
<text transform="translate(425.7,118.84) scale(0.98,1)" font-size="6.4" text-anchor="middle" fill="#000" stroke="#000" stroke-width="0.05">0.01</text>
<text transform="translate(454.1,118.84) scale(0.98,1)" font-size="6.4" text-anchor="middle" fill="#000" stroke="#000" stroke-width="0.05">0.00</text>
<text transform="translate(482.5,118.84) scale(0.98,1)" font-size="6.4" text-anchor="middle" fill="#000" stroke="#000" stroke-width="0.05">-0.18</text>
<text transform="translate(510.9,118.84) scale(0.98,1)" font-size="6.4" text-anchor="middle" fill="#000" stroke="#000" stroke-width="0.05">1.00</text>
<text transform="translate(425.7,149.88) scale(0.98,1)" font-size="6.4" text-anchor="middle" fill="#000" stroke="#000" stroke-width="0.05">-0.18</text>
<text transform="translate(454.1,149.88) scale(0.98,1)" font-size="6.4" text-anchor="middle" fill="#000" stroke="#000" stroke-width="0.05">0.03</text>
<text transform="translate(482.5,149.88) scale(0.98,1)" font-size="6.4" text-anchor="middle" fill="#000" stroke="#000" stroke-width="0.05">0.01</text>
<text transform="translate(510.9,149.88) scale(0.98,1)" font-size="6.4" text-anchor="middle" fill="#000" stroke="#000" stroke-width="0.05">-0.00</text>
<text transform="translate(539.3,149.88) scale(0.98,1)" font-size="6.4" text-anchor="middle" fill="#000" stroke="#000" stroke-width="0.05">1.00</text>
<text transform="translate(425.7,180.92) scale(0.98,1)" font-size="6.4" text-anchor="middle" fill="#000" stroke="#000" stroke-width="0.05">-0.13</text>
<text transform="translate(454.1,180.92) scale(0.98,1)" font-size="6.4" text-anchor="middle" fill="#000" stroke="#000" stroke-width="0.05">-0.00</text>
<text transform="translate(482.5,180.92) scale(0.98,1)" font-size="6.4" text-anchor="middle" fill="#000" stroke="#000" stroke-width="0.05">-0.02</text>
<text transform="translate(510.9,180.92) scale(0.98,1)" font-size="6.4" text-anchor="middle" fill="#000" stroke="#000" stroke-width="0.05">0.01</text>
<text transform="translate(539.3,180.92) scale(0.98,1)" font-size="6.4" text-anchor="middle" fill="#000" stroke="#000" stroke-width="0.05">0.10</text>
<text transform="translate(567.7,180.92) scale(0.98,1)" font-size="6.4" text-anchor="middle" fill="#000" stroke="#000" stroke-width="0.05">1.00</text>
<text transform="translate(425.7,211.96) scale(0.98,1)" font-size="6.4" text-anchor="middle" fill="#000" stroke="#000" stroke-width="0.05">-0.07</text>
<text transform="translate(454.1,211.96) scale(0.98,1)" font-size="6.4" text-anchor="middle" fill="#000" stroke="#000" stroke-width="0.05">-0.05</text>
<text transform="translate(482.5,211.96) scale(0.98,1)" font-size="6.4" text-anchor="middle" fill="#000" stroke="#000" stroke-width="0.05">-0.10</text>
<text transform="translate(510.9,211.96) scale(0.98,1)" font-size="6.4" text-anchor="middle" fill="#000" stroke="#000" stroke-width="0.05">-0.01</text>
<text transform="translate(539.3,211.96) scale(0.98,1)" font-size="6.4" text-anchor="middle" fill="#000" stroke="#000" stroke-width="0.05">0.06</text>
<text transform="translate(567.7,211.96) scale(0.98,1)" font-size="6.4" text-anchor="middle" fill="#000" stroke="#000" stroke-width="0.05">0.07</text>
<text transform="translate(596.1,211.96) scale(0.98,1)" font-size="6.4" text-anchor="middle" fill="#000" stroke="#000" stroke-width="0.05">1.00</text>
<text transform="translate(425.7,243) scale(0.98,1)" font-size="6.4" text-anchor="middle" fill="#000" stroke="#000" stroke-width="0.05">-0.00</text>
<text transform="translate(454.1,243) scale(0.98,1)" font-size="6.4" text-anchor="middle" fill="#000" stroke="#000" stroke-width="0.05">0.00</text>
<text transform="translate(482.5,243) scale(0.98,1)" font-size="6.4" text-anchor="middle" fill="#000" stroke="#000" stroke-width="0.05">0.01</text>
<text transform="translate(510.9,243) scale(0.98,1)" font-size="6.4" text-anchor="middle" fill="#000" stroke="#000" stroke-width="0.05">-0.04</text>
<text transform="translate(539.3,243) scale(0.98,1)" font-size="6.4" text-anchor="middle" fill="#000" stroke="#000" stroke-width="0.05">0.01</text>
<text transform="translate(567.7,243) scale(0.98,1)" font-size="6.4" text-anchor="middle" fill="#000" stroke="#000" stroke-width="0.05">0.01</text>
<text transform="translate(596.1,243) scale(0.98,1)" font-size="6.4" text-anchor="middle" fill="#000" stroke="#000" stroke-width="0.05">0.01</text>
<text transform="translate(624.5,243) scale(0.98,1)" font-size="6.4" text-anchor="middle" fill="#000" stroke="#000" stroke-width="0.05">1.00</text>
<text transform="translate(408.2,26.11) scale(1.08,1)" font-size="7.2" text-anchor="end" fill="#111" stroke="#111" stroke-width="0.06">ggF</text>
<text transform="translate(408.2,57.15) scale(1.08,1)" font-size="7.2" text-anchor="end" fill="#111" stroke="#111" stroke-width="0.06">VBF</text>
<text transform="translate(408.2,88.19) scale(1.08,1)" font-size="7.2" text-anchor="end" fill="#111" stroke="#111" stroke-width="0.06"><tspan font-style="italic">VH</tspan></text>
<text transform="translate(408.2,119.23) scale(1.08,1)" font-size="7.2" text-anchor="end" fill="#111" stroke="#111" stroke-width="0.06"><tspan font-style="italic">ttH</tspan></text>
<text transform="translate(408.2,150.27) scale(1.08,1)" font-size="7.2" text-anchor="end" fill="#111" stroke="#111" stroke-width="0.06"><tspan font-style="italic">ZZ-0j</tspan></text>
<text transform="translate(408.2,181.31) scale(1.08,1)" font-size="7.2" text-anchor="end" fill="#111" stroke="#111" stroke-width="0.06"><tspan font-style="italic">ZZ-1j</tspan></text>
<text transform="translate(408.2,212.35) scale(1.08,1)" font-size="7.2" text-anchor="end" fill="#111" stroke="#111" stroke-width="0.06"><tspan font-style="italic">ZZ-2j</tspan></text>
<text transform="translate(408.2,243.39) scale(1.08,1)" font-size="7.2" text-anchor="end" fill="#111" stroke="#111" stroke-width="0.06"><tspan font-style="italic">tXX</tspan></text>
<text transform="translate(428.29,258.22) rotate(-90) scale(1.08,1)" font-size="7.2" text-anchor="end" fill="#111" stroke="#111" stroke-width="0.06">ggF</text>
<text transform="translate(456.69,258.22) rotate(-90) scale(1.08,1)" font-size="7.2" text-anchor="end" fill="#111" stroke="#111" stroke-width="0.06">VBF</text>
<text transform="translate(485.09,258.22) rotate(-90) scale(1.08,1)" font-size="7.2" text-anchor="end" fill="#111" stroke="#111" stroke-width="0.06"><tspan font-style="italic">VH</tspan></text>
<text transform="translate(513.49,258.22) rotate(-90) scale(1.08,1)" font-size="7.2" text-anchor="end" fill="#111" stroke="#111" stroke-width="0.06"><tspan font-style="italic">ttH</tspan></text>
<text transform="translate(541.89,258.22) rotate(-90) scale(1.08,1)" font-size="7.2" text-anchor="end" fill="#111" stroke="#111" stroke-width="0.06"><tspan font-style="italic">ZZ-0j</tspan></text>
<text transform="translate(570.29,258.22) rotate(-90) scale(1.08,1)" font-size="7.2" text-anchor="end" fill="#111" stroke="#111" stroke-width="0.06"><tspan font-style="italic">ZZ-1j</tspan></text>
<text transform="translate(598.69,258.22) rotate(-90) scale(1.08,1)" font-size="7.2" text-anchor="end" fill="#111" stroke="#111" stroke-width="0.06"><tspan font-style="italic">ZZ-2j</tspan></text>
<text transform="translate(627.09,258.22) rotate(-90) scale(1.08,1)" font-size="7.2" text-anchor="end" fill="#111" stroke="#111" stroke-width="0.06"><tspan font-style="italic">tXX</tspan></text>
<defs><linearGradient id="gb" x1="0" y1="0" x2="0" y2="1"><stop offset="0%" stop-color="#c14a28"/><stop offset="4%" stop-color="#d66e5a"/><stop offset="8%" stop-color="#ec969b"/><stop offset="10%" stop-color="#f1acb5"/><stop offset="20%" stop-color="#f5c3c9"/><stop offset="30%" stop-color="#f9d7db"/><stop offset="40%" stop-color="#fce9eb"/><stop offset="50%" stop-color="#ffffff"/><stop offset="60%" stop-color="#dce9f6"/><stop offset="70%" stop-color="#b2d0ec"/><stop offset="80%" stop-color="#8cb8e2"/><stop offset="90%" stop-color="#6096d0"/><stop offset="95%" stop-color="#467abe"/><stop offset="100%" stop-color="#2a5ba8"/></linearGradient></defs>
<rect x="639.4" y="7.3" width="15.4" height="248.3" fill="url(#gb)"/>
<line x1="654.8" y1="7.3" x2="654.8" y2="255.6" stroke="#333" stroke-width="1.0"/>
<text transform="translate(656.7,12.4) scale(1.16,1)" font-size="12.6">1</text>
<line x1="647.3" y1="32.13" x2="654.8" y2="32.13" stroke="#444" stroke-width="1.0"/>
<text transform="translate(656.7,37.03) scale(1.16,1)" font-size="12.6">0.8</text>
<line x1="647.3" y1="56.96" x2="654.8" y2="56.96" stroke="#444" stroke-width="1.0"/>
<text transform="translate(656.7,61.86) scale(1.16,1)" font-size="12.6">0.6</text>
<line x1="647.3" y1="81.79" x2="654.8" y2="81.79" stroke="#444" stroke-width="1.0"/>
<text transform="translate(656.7,86.69) scale(1.16,1)" font-size="12.6">0.4</text>
<line x1="647.3" y1="106.62" x2="654.8" y2="106.62" stroke="#444" stroke-width="1.0"/>
<text transform="translate(656.7,111.52) scale(1.16,1)" font-size="12.6">0.2</text>
<line x1="647.3" y1="131.45" x2="654.8" y2="131.45" stroke="#444" stroke-width="1.0"/>
<text transform="translate(656.7,136.35) scale(1.16,1)" font-size="12.6">0</text>
<line x1="647.3" y1="156.28" x2="654.8" y2="156.28" stroke="#444" stroke-width="1.0"/>
<text transform="translate(656.7,161.18) scale(1.16,1)" font-size="12.6">−<tspan dx="-0.9">0.2</tspan></text>
<line x1="647.3" y1="181.11" x2="654.8" y2="181.11" stroke="#444" stroke-width="1.0"/>
<text transform="translate(656.7,186.01) scale(1.16,1)" font-size="12.6">−<tspan dx="-0.9">0.4</tspan></text>
<line x1="647.3" y1="205.94" x2="654.8" y2="205.94" stroke="#444" stroke-width="1.0"/>
<text transform="translate(656.7,210.84) scale(1.16,1)" font-size="12.6">−<tspan dx="-0.9">0.6</tspan></text>
<line x1="647.3" y1="230.77" x2="654.8" y2="230.77" stroke="#444" stroke-width="1.0"/>
<text transform="translate(656.7,235.67) scale(1.16,1)" font-size="12.6">−<tspan dx="-0.9">0.8</tspan></text>
<text transform="translate(656.7,261.8) scale(1.16,1)" font-size="12.6">−<tspan dx="-0.9">1</tspan></text>
<text transform="translate(505,30.6) scale(1.09,1)" font-size="14" font-weight="bold" font-style="italic">ATLAS</text>
<text transform="translate(503.39,43.1) scale(1.1,1)" font-size="12.6">H</text>
<path d="M516.37 40.48 H528.02 M525.42 38.77 L528.02 40.48 L525.42 42.18" fill="none" stroke="#333" stroke-width="0.85"/>
<text transform="translate(532.08,43.1) scale(1.1,1)" font-size="12.6">ZZ</text>
<text transform="translate(550.11,42.05) scale(1.1,1)" font-size="10.08">*</text>
<path d="M557.42 40.48 H568.87 M566.27 38.77 L568.87 40.48 L566.27 42.18" fill="none" stroke="#333" stroke-width="0.85"/>
<text transform="translate(573.01,43.1) scale(1.1,1)" font-size="12.6">4l</text>
<path d="M504.3 49.3 L505.37 48.6 L506.44 54 L507.52 45.5 H513.32" fill="none" stroke="#222" stroke-width="0.75" stroke-linejoin="miter"/>
<path d="M505.37 48.6 L506.44 54" stroke="#000" stroke-width="1.5"/>
<text transform="translate(508.16,54.2) scale(1.075,1)" font-size="9">s = 13 TeV, 139 fb<tspan font-size="5.85" dy="-3.5">-1</tspan></text>
<text x="523" y="324.2" font-size="16" text-anchor="middle" font-weight="bold">(b)</text>
<rect x="433.3" y="354.2" width="13.13" height="14.52" fill="#c14a28"/>
<rect x="433.3" y="368.42" width="13.13" height="14.52" fill="#f4f8fc"/>
<rect x="446.13" y="368.42" width="13.13" height="14.52" fill="#c14a28"/>
<rect x="433.3" y="382.64" width="13.13" height="14.52" fill="#fafcfe"/>
<rect x="446.13" y="382.64" width="13.13" height="14.52" fill="#9bc2e6"/>
<rect x="458.96" y="382.64" width="13.13" height="14.52" fill="#c14a28"/>
<rect x="433.3" y="396.86" width="13.13" height="14.52" fill="#fffdfd"/>
<rect x="446.13" y="396.86" width="13.13" height="14.52" fill="#fdf1f2"/>
<rect x="458.96" y="396.86" width="13.13" height="14.52" fill="#eef4fa"/>
<rect x="471.79" y="396.86" width="13.13" height="14.52" fill="#c14a28"/>
<rect x="433.3" y="411.08" width="13.13" height="14.52" fill="#ffffff"/>
<rect x="446.13" y="411.08" width="13.13" height="14.52" fill="#fef7f8"/>
<rect x="458.96" y="411.08" width="13.13" height="14.52" fill="#fcfdfe"/>
<rect x="471.79" y="411.08" width="13.13" height="14.52" fill="#fef5f6"/>
<rect x="484.62" y="411.08" width="13.13" height="14.52" fill="#c14a28"/>
<rect x="433.3" y="425.3" width="13.13" height="14.52" fill="#fdfeff"/>
<rect x="446.13" y="425.3" width="13.13" height="14.52" fill="#e5eef8"/>
<rect x="458.96" y="425.3" width="13.13" height="14.52" fill="#fef5f6"/>
<rect x="471.79" y="425.3" width="13.13" height="14.52" fill="#cfe2f3"/>
<rect x="484.62" y="425.3" width="13.13" height="14.52" fill="#eaf2fa"/>
<rect x="497.45" y="425.3" width="13.13" height="14.52" fill="#c14a28"/>
<rect x="433.3" y="439.52" width="13.13" height="14.52" fill="#ffffff"/>
<rect x="446.13" y="439.52" width="13.13" height="14.52" fill="#fefbfb"/>
<rect x="458.96" y="439.52" width="13.13" height="14.52" fill="#fdfeff"/>
<rect x="471.79" y="439.52" width="13.13" height="14.52" fill="#fef8f9"/>
<rect x="484.62" y="439.52" width="13.13" height="14.52" fill="#fffefe"/>
<rect x="497.45" y="439.52" width="13.13" height="14.52" fill="#fafcfe"/>
<rect x="510.28" y="439.52" width="13.13" height="14.52" fill="#c14a28"/>
<rect x="433.3" y="453.74" width="13.13" height="14.52" fill="#fffefe"/>
<rect x="446.13" y="453.74" width="13.13" height="14.52" fill="#fefafa"/>
<rect x="458.96" y="453.74" width="13.13" height="14.52" fill="#f6fafd"/>
<rect x="471.79" y="453.74" width="13.13" height="14.52" fill="#fef7f8"/>
<rect x="484.62" y="453.74" width="13.13" height="14.52" fill="#fffdfd"/>
<rect x="497.45" y="453.74" width="13.13" height="14.52" fill="#a8caea"/>
<rect x="510.28" y="453.74" width="13.13" height="14.52" fill="#e8f1f9"/>
<rect x="523.11" y="453.74" width="13.13" height="14.52" fill="#c14a28"/>
<rect x="433.3" y="467.96" width="13.13" height="14.52" fill="#ffffff"/>
<rect x="446.13" y="467.96" width="13.13" height="14.52" fill="#fdfeff"/>
<rect x="458.96" y="467.96" width="13.13" height="14.52" fill="#e8f1f9"/>
<rect x="471.79" y="467.96" width="13.13" height="14.52" fill="#e0ebf7"/>
<rect x="484.62" y="467.96" width="13.13" height="14.52" fill="#dce9f6"/>
<rect x="497.45" y="467.96" width="13.13" height="14.52" fill="#cbdff2"/>
<rect x="510.28" y="467.96" width="13.13" height="14.52" fill="#f4f8fc"/>
<rect x="523.11" y="467.96" width="13.13" height="14.52" fill="#fef8f9"/>
<rect x="535.94" y="467.96" width="13.13" height="14.52" fill="#c14a28"/>
<rect x="433.3" y="482.18" width="13.13" height="14.52" fill="#ffffff"/>
<rect x="446.13" y="482.18" width="13.13" height="14.52" fill="#fcfdfe"/>
<rect x="458.96" y="482.18" width="13.13" height="14.52" fill="#fffcfc"/>
<rect x="471.79" y="482.18" width="13.13" height="14.52" fill="#fcfdfe"/>
<rect x="484.62" y="482.18" width="13.13" height="14.52" fill="#ffffff"/>
<rect x="497.45" y="482.18" width="13.13" height="14.52" fill="#fefbfb"/>
<rect x="510.28" y="482.18" width="13.13" height="14.52" fill="#aeceeb"/>
<rect x="523.11" y="482.18" width="13.13" height="14.52" fill="#fffcfc"/>
<rect x="535.94" y="482.18" width="13.13" height="14.52" fill="#fcfdfe"/>
<rect x="548.77" y="482.18" width="13.13" height="14.52" fill="#c14a28"/>
<rect x="433.3" y="496.4" width="13.13" height="14.52" fill="#fffefe"/>
<rect x="446.13" y="496.4" width="13.13" height="14.52" fill="#fafcfe"/>
<rect x="458.96" y="496.4" width="13.13" height="14.52" fill="#fdfeff"/>
<rect x="471.79" y="496.4" width="13.13" height="14.52" fill="#f8fbfd"/>
<rect x="484.62" y="496.4" width="13.13" height="14.52" fill="#fafcfe"/>
<rect x="497.45" y="496.4" width="13.13" height="14.52" fill="#fdfeff"/>
<rect x="510.28" y="496.4" width="13.13" height="14.52" fill="#f8fbfd"/>
<rect x="523.11" y="496.4" width="13.13" height="14.52" fill="#fafcfe"/>
<rect x="535.94" y="496.4" width="13.13" height="14.52" fill="#f1f6fb"/>
<rect x="548.77" y="496.4" width="13.13" height="14.52" fill="#fffefe"/>
<rect x="561.6" y="496.4" width="13.13" height="14.52" fill="#c14a28"/>
<rect x="433.3" y="510.62" width="13.13" height="14.52" fill="#ffffff"/>
<rect x="446.13" y="510.62" width="13.13" height="14.52" fill="#ffffff"/>
<rect x="458.96" y="510.62" width="13.13" height="14.52" fill="#fffdfd"/>
<rect x="471.79" y="510.62" width="13.13" height="14.52" fill="#fffdfd"/>
<rect x="484.62" y="510.62" width="13.13" height="14.52" fill="#fffdfd"/>
<rect x="497.45" y="510.62" width="13.13" height="14.52" fill="#f8fbfd"/>
<rect x="510.28" y="510.62" width="13.13" height="14.52" fill="#eef4fa"/>
<rect x="523.11" y="510.62" width="13.13" height="14.52" fill="#ecf3fa"/>
<rect x="535.94" y="510.62" width="13.13" height="14.52" fill="#fffefe"/>
<rect x="548.77" y="510.62" width="13.13" height="14.52" fill="#fffcfc"/>
<rect x="561.6" y="510.62" width="13.13" height="14.52" fill="#f1f6fb"/>
<rect x="574.43" y="510.62" width="13.13" height="14.52" fill="#c14a28"/>
<rect x="433.3" y="524.84" width="13.13" height="14.52" fill="#dce9f6"/>
<rect x="446.13" y="524.84" width="13.13" height="14.52" fill="#e8f1f9"/>
<rect x="458.96" y="524.84" width="13.13" height="14.52" fill="#fefbfb"/>
<rect x="471.79" y="524.84" width="13.13" height="14.52" fill="#fffefe"/>
<rect x="484.62" y="524.84" width="13.13" height="14.52" fill="#ffffff"/>
<rect x="497.45" y="524.84" width="13.13" height="14.52" fill="#fdfeff"/>
<rect x="510.28" y="524.84" width="13.13" height="14.52" fill="#ffffff"/>
<rect x="523.11" y="524.84" width="13.13" height="14.52" fill="#ffffff"/>
<rect x="535.94" y="524.84" width="13.13" height="14.52" fill="#f1f6fb"/>
<rect x="548.77" y="524.84" width="13.13" height="14.52" fill="#f4f8fc"/>
<rect x="561.6" y="524.84" width="13.13" height="14.52" fill="#fafcfe"/>
<rect x="574.43" y="524.84" width="13.13" height="14.52" fill="#fdfeff"/>
<rect x="587.26" y="524.84" width="13.13" height="14.52" fill="#c14a28"/>
<rect x="433.3" y="539.06" width="13.13" height="14.52" fill="#fafcfe"/>
<rect x="446.13" y="539.06" width="13.13" height="14.52" fill="#fdfeff"/>
<rect x="458.96" y="539.06" width="13.13" height="14.52" fill="#e3edf8"/>
<rect x="471.79" y="539.06" width="13.13" height="14.52" fill="#eaf2fa"/>
<rect x="484.62" y="539.06" width="13.13" height="14.52" fill="#f6fafd"/>
<rect x="497.45" y="539.06" width="13.13" height="14.52" fill="#fef6f7"/>
<rect x="510.28" y="539.06" width="13.13" height="14.52" fill="#fdfeff"/>
<rect x="523.11" y="539.06" width="13.13" height="14.52" fill="#fafcfe"/>
<rect x="535.94" y="539.06" width="13.13" height="14.52" fill="#f1f6fb"/>
<rect x="548.77" y="539.06" width="13.13" height="14.52" fill="#fffefe"/>
<rect x="561.6" y="539.06" width="13.13" height="14.52" fill="#fafcfe"/>
<rect x="574.43" y="539.06" width="13.13" height="14.52" fill="#ffffff"/>
<rect x="587.26" y="539.06" width="13.13" height="14.52" fill="#fef8f9"/>
<rect x="600.09" y="539.06" width="13.13" height="14.52" fill="#c14a28"/>
<rect x="433.3" y="553.28" width="13.13" height="14.52" fill="#ffffff"/>
<rect x="446.13" y="553.28" width="13.13" height="14.52" fill="#fdfeff"/>
<rect x="458.96" y="553.28" width="13.13" height="14.52" fill="#fffcfc"/>
<rect x="471.79" y="553.28" width="13.13" height="14.52" fill="#fffdfd"/>
<rect x="484.62" y="553.28" width="13.13" height="14.52" fill="#fffdfd"/>
<rect x="497.45" y="553.28" width="13.13" height="14.52" fill="#c9def2"/>
<rect x="510.28" y="553.28" width="13.13" height="14.52" fill="#fcfdfe"/>
<rect x="523.11" y="553.28" width="13.13" height="14.52" fill="#fdfeff"/>
<rect x="535.94" y="553.28" width="13.13" height="14.52" fill="#fffdfd"/>
<rect x="548.77" y="553.28" width="13.13" height="14.52" fill="#f1f6fb"/>
<rect x="561.6" y="553.28" width="13.13" height="14.52" fill="#fafcfe"/>
<rect x="574.43" y="553.28" width="13.13" height="14.52" fill="#fffefe"/>
<rect x="587.26" y="553.28" width="13.13" height="14.52" fill="#fefafa"/>
<rect x="600.09" y="553.28" width="13.13" height="14.52" fill="#fefafa"/>
<rect x="612.92" y="553.28" width="13.13" height="14.52" fill="#c14a28"/>
<rect x="433.3" y="567.5" width="13.13" height="14.52" fill="#ffffff"/>
<rect x="446.13" y="567.5" width="13.13" height="14.52" fill="#ffffff"/>
<rect x="458.96" y="567.5" width="13.13" height="14.52" fill="#fffefe"/>
<rect x="471.79" y="567.5" width="13.13" height="14.52" fill="#ffffff"/>
<rect x="484.62" y="567.5" width="13.13" height="14.52" fill="#ffffff"/>
<rect x="497.45" y="567.5" width="13.13" height="14.52" fill="#ffffff"/>
<rect x="510.28" y="567.5" width="13.13" height="14.52" fill="#ffffff"/>
<rect x="523.11" y="567.5" width="13.13" height="14.52" fill="#ffffff"/>
<rect x="535.94" y="567.5" width="13.13" height="14.52" fill="#ffffff"/>
<rect x="548.77" y="567.5" width="13.13" height="14.52" fill="#ffffff"/>
<rect x="561.6" y="567.5" width="13.13" height="14.52" fill="#fffefe"/>
<rect x="574.43" y="567.5" width="13.13" height="14.52" fill="#f6fafd"/>
<rect x="587.26" y="567.5" width="13.13" height="14.52" fill="#fffefe"/>
<rect x="600.09" y="567.5" width="13.13" height="14.52" fill="#fffefe"/>
<rect x="612.92" y="567.5" width="13.13" height="14.52" fill="#fffefe"/>
<rect x="625.75" y="567.5" width="13.13" height="14.52" fill="#c14a28"/>
<rect x="433.3" y="354.2" width="205.28" height="227.52" fill="none" stroke="#333" stroke-width="1.0"/>
<line x1="433.3" y1="368.42" x2="440.3" y2="368.42" stroke="#333" stroke-width="1.0"/>
<line x1="631.58" y1="368.42" x2="638.58" y2="368.42" stroke="#333" stroke-width="1.0"/>
<line x1="446.13" y1="354.2" x2="446.13" y2="359.8" stroke="#333" stroke-width="1.0"/>
<line x1="446.13" y1="581.72" x2="446.13" y2="576.12" stroke="#333" stroke-width="1.0"/>
<line x1="433.3" y1="382.64" x2="440.3" y2="382.64" stroke="#333" stroke-width="1.0"/>
<line x1="631.58" y1="382.64" x2="638.58" y2="382.64" stroke="#333" stroke-width="1.0"/>
<line x1="458.96" y1="354.2" x2="458.96" y2="359.8" stroke="#333" stroke-width="1.0"/>
<line x1="458.96" y1="581.72" x2="458.96" y2="576.12" stroke="#333" stroke-width="1.0"/>
<line x1="433.3" y1="396.86" x2="440.3" y2="396.86" stroke="#333" stroke-width="1.0"/>
<line x1="631.58" y1="396.86" x2="638.58" y2="396.86" stroke="#333" stroke-width="1.0"/>
<line x1="471.79" y1="354.2" x2="471.79" y2="359.8" stroke="#333" stroke-width="1.0"/>
<line x1="471.79" y1="581.72" x2="471.79" y2="576.12" stroke="#333" stroke-width="1.0"/>
<line x1="433.3" y1="411.08" x2="440.3" y2="411.08" stroke="#333" stroke-width="1.0"/>
<line x1="631.58" y1="411.08" x2="638.58" y2="411.08" stroke="#333" stroke-width="1.0"/>
<line x1="484.62" y1="354.2" x2="484.62" y2="359.8" stroke="#333" stroke-width="1.0"/>
<line x1="484.62" y1="581.72" x2="484.62" y2="576.12" stroke="#333" stroke-width="1.0"/>
<line x1="433.3" y1="425.3" x2="440.3" y2="425.3" stroke="#333" stroke-width="1.0"/>
<line x1="631.58" y1="425.3" x2="638.58" y2="425.3" stroke="#333" stroke-width="1.0"/>
<line x1="497.45" y1="354.2" x2="497.45" y2="359.8" stroke="#333" stroke-width="1.0"/>
<line x1="497.45" y1="581.72" x2="497.45" y2="576.12" stroke="#333" stroke-width="1.0"/>
<line x1="433.3" y1="439.52" x2="440.3" y2="439.52" stroke="#333" stroke-width="1.0"/>
<line x1="631.58" y1="439.52" x2="638.58" y2="439.52" stroke="#333" stroke-width="1.0"/>
<line x1="510.28" y1="354.2" x2="510.28" y2="359.8" stroke="#333" stroke-width="1.0"/>
<line x1="510.28" y1="581.72" x2="510.28" y2="576.12" stroke="#333" stroke-width="1.0"/>
<line x1="433.3" y1="453.74" x2="440.3" y2="453.74" stroke="#333" stroke-width="1.0"/>
<line x1="631.58" y1="453.74" x2="638.58" y2="453.74" stroke="#333" stroke-width="1.0"/>
<line x1="523.11" y1="354.2" x2="523.11" y2="359.8" stroke="#333" stroke-width="1.0"/>
<line x1="523.11" y1="581.72" x2="523.11" y2="576.12" stroke="#333" stroke-width="1.0"/>
<line x1="433.3" y1="467.96" x2="440.3" y2="467.96" stroke="#333" stroke-width="1.0"/>
<line x1="631.58" y1="467.96" x2="638.58" y2="467.96" stroke="#333" stroke-width="1.0"/>
<line x1="535.94" y1="354.2" x2="535.94" y2="359.8" stroke="#333" stroke-width="1.0"/>
<line x1="535.94" y1="581.72" x2="535.94" y2="576.12" stroke="#333" stroke-width="1.0"/>
<line x1="433.3" y1="482.18" x2="440.3" y2="482.18" stroke="#333" stroke-width="1.0"/>
<line x1="631.58" y1="482.18" x2="638.58" y2="482.18" stroke="#333" stroke-width="1.0"/>
<line x1="548.77" y1="354.2" x2="548.77" y2="359.8" stroke="#333" stroke-width="1.0"/>
<line x1="548.77" y1="581.72" x2="548.77" y2="576.12" stroke="#333" stroke-width="1.0"/>
<line x1="433.3" y1="496.4" x2="440.3" y2="496.4" stroke="#333" stroke-width="1.0"/>
<line x1="631.58" y1="496.4" x2="638.58" y2="496.4" stroke="#333" stroke-width="1.0"/>
<line x1="561.6" y1="354.2" x2="561.6" y2="359.8" stroke="#333" stroke-width="1.0"/>
<line x1="561.6" y1="581.72" x2="561.6" y2="576.12" stroke="#333" stroke-width="1.0"/>
<line x1="433.3" y1="510.62" x2="440.3" y2="510.62" stroke="#333" stroke-width="1.0"/>
<line x1="631.58" y1="510.62" x2="638.58" y2="510.62" stroke="#333" stroke-width="1.0"/>
<line x1="574.43" y1="354.2" x2="574.43" y2="359.8" stroke="#333" stroke-width="1.0"/>
<line x1="574.43" y1="581.72" x2="574.43" y2="576.12" stroke="#333" stroke-width="1.0"/>
<line x1="433.3" y1="524.84" x2="440.3" y2="524.84" stroke="#333" stroke-width="1.0"/>
<line x1="631.58" y1="524.84" x2="638.58" y2="524.84" stroke="#333" stroke-width="1.0"/>
<line x1="587.26" y1="354.2" x2="587.26" y2="359.8" stroke="#333" stroke-width="1.0"/>
<line x1="587.26" y1="581.72" x2="587.26" y2="576.12" stroke="#333" stroke-width="1.0"/>
<line x1="433.3" y1="539.06" x2="440.3" y2="539.06" stroke="#333" stroke-width="1.0"/>
<line x1="631.58" y1="539.06" x2="638.58" y2="539.06" stroke="#333" stroke-width="1.0"/>
<line x1="600.09" y1="354.2" x2="600.09" y2="359.8" stroke="#333" stroke-width="1.0"/>
<line x1="600.09" y1="581.72" x2="600.09" y2="576.12" stroke="#333" stroke-width="1.0"/>
<line x1="433.3" y1="553.28" x2="440.3" y2="553.28" stroke="#333" stroke-width="1.0"/>
<line x1="631.58" y1="553.28" x2="638.58" y2="553.28" stroke="#333" stroke-width="1.0"/>
<line x1="612.92" y1="354.2" x2="612.92" y2="359.8" stroke="#333" stroke-width="1.0"/>
<line x1="612.92" y1="581.72" x2="612.92" y2="576.12" stroke="#333" stroke-width="1.0"/>
<line x1="433.3" y1="567.5" x2="440.3" y2="567.5" stroke="#333" stroke-width="1.0"/>
<line x1="631.58" y1="567.5" x2="638.58" y2="567.5" stroke="#333" stroke-width="1.0"/>
<line x1="625.75" y1="354.2" x2="625.75" y2="359.8" stroke="#333" stroke-width="1.0"/>
<line x1="625.75" y1="581.72" x2="625.75" y2="576.12" stroke="#333" stroke-width="1.0"/>
<text transform="translate(439.72,362.79) scale(1.1,1)" font-size="4.1" text-anchor="middle" fill="#000" stroke="#000" stroke-width="0.05">1.00</text>
<text transform="translate(439.72,377.01) scale(1.1,1)" font-size="4.1" text-anchor="middle" fill="#000" stroke="#000" stroke-width="0.05">-0.06</text>
<text transform="translate(452.55,377.01) scale(1.1,1)" font-size="4.1" text-anchor="middle" fill="#000" stroke="#000" stroke-width="0.05">1.00</text>
<text transform="translate(439.72,391.23) scale(1.1,1)" font-size="4.1" text-anchor="middle" fill="#000" stroke="#000" stroke-width="0.05">-0.03</text>
<text transform="translate(452.55,391.23) scale(1.1,1)" font-size="4.1" text-anchor="middle" fill="#000" stroke="#000" stroke-width="0.05">-0.52</text>
<text transform="translate(465.38,391.23) scale(1.1,1)" font-size="4.1" text-anchor="middle" fill="#000" stroke="#000" stroke-width="0.05">1.00</text>
<text transform="translate(439.72,405.45) scale(1.1,1)" font-size="4.1" text-anchor="middle" fill="#000" stroke="#000" stroke-width="0.05">0.02</text>
<text transform="translate(452.55,405.45) scale(1.1,1)" font-size="4.1" text-anchor="middle" fill="#000" stroke="#000" stroke-width="0.05">0.13</text>
<text transform="translate(465.38,405.45) scale(1.1,1)" font-size="4.1" text-anchor="middle" fill="#000" stroke="#000" stroke-width="0.05">-0.10</text>
<text transform="translate(478.21,405.45) scale(1.1,1)" font-size="4.1" text-anchor="middle" fill="#000" stroke="#000" stroke-width="0.05">1.00</text>
<text transform="translate(439.72,419.67) scale(1.1,1)" font-size="4.1" text-anchor="middle" fill="#000" stroke="#000" stroke-width="0.05">0.00</text>
<text transform="translate(452.55,419.67) scale(1.1,1)" font-size="4.1" text-anchor="middle" fill="#000" stroke="#000" stroke-width="0.05">0.07</text>
<text transform="translate(465.38,419.67) scale(1.1,1)" font-size="4.1" text-anchor="middle" fill="#000" stroke="#000" stroke-width="0.05">-0.02</text>
<text transform="translate(478.21,419.67) scale(1.1,1)" font-size="4.1" text-anchor="middle" fill="#000" stroke="#000" stroke-width="0.05">0.09</text>
<text transform="translate(491.04,419.67) scale(1.1,1)" font-size="4.1" text-anchor="middle" fill="#000" stroke="#000" stroke-width="0.05">1.00</text>
<text transform="translate(439.72,433.89) scale(1.1,1)" font-size="4.1" text-anchor="middle" fill="#000" stroke="#000" stroke-width="0.05">-0.01</text>
<text transform="translate(452.55,433.89) scale(1.1,1)" font-size="4.1" text-anchor="middle" fill="#000" stroke="#000" stroke-width="0.05">-0.15</text>
<text transform="translate(465.38,433.89) scale(1.1,1)" font-size="4.1" text-anchor="middle" fill="#000" stroke="#000" stroke-width="0.05">0.09</text>
<text transform="translate(478.21,433.89) scale(1.1,1)" font-size="4.1" text-anchor="middle" fill="#000" stroke="#000" stroke-width="0.05">-0.26</text>
<text transform="translate(491.04,433.89) scale(1.1,1)" font-size="4.1" text-anchor="middle" fill="#000" stroke="#000" stroke-width="0.05">-0.12</text>
<text transform="translate(503.87,433.89) scale(1.1,1)" font-size="4.1" text-anchor="middle" fill="#000" stroke="#000" stroke-width="0.05">1.00</text>
<text transform="translate(439.72,448.11) scale(1.1,1)" font-size="4.1" text-anchor="middle" fill="#000" stroke="#000" stroke-width="0.05">0.00</text>
<text transform="translate(452.55,448.11) scale(1.1,1)" font-size="4.1" text-anchor="middle" fill="#000" stroke="#000" stroke-width="0.05">0.04</text>
<text transform="translate(465.38,448.11) scale(1.1,1)" font-size="4.1" text-anchor="middle" fill="#000" stroke="#000" stroke-width="0.05">-0.01</text>
<text transform="translate(478.21,448.11) scale(1.1,1)" font-size="4.1" text-anchor="middle" fill="#000" stroke="#000" stroke-width="0.05">0.06</text>
<text transform="translate(491.04,448.11) scale(1.1,1)" font-size="4.1" text-anchor="middle" fill="#000" stroke="#000" stroke-width="0.05">0.01</text>
<text transform="translate(503.87,448.11) scale(1.1,1)" font-size="4.1" text-anchor="middle" fill="#000" stroke="#000" stroke-width="0.05">-0.03</text>
<text transform="translate(516.7,448.11) scale(1.1,1)" font-size="4.1" text-anchor="middle" fill="#000" stroke="#000" stroke-width="0.05">1.00</text>
<text transform="translate(439.72,462.33) scale(1.1,1)" font-size="4.1" text-anchor="middle" fill="#000" stroke="#000" stroke-width="0.05">0.01</text>
<text transform="translate(452.55,462.33) scale(1.1,1)" font-size="4.1" text-anchor="middle" fill="#000" stroke="#000" stroke-width="0.05">0.05</text>
<text transform="translate(465.38,462.33) scale(1.1,1)" font-size="4.1" text-anchor="middle" fill="#000" stroke="#000" stroke-width="0.05">-0.05</text>
<text transform="translate(478.21,462.33) scale(1.1,1)" font-size="4.1" text-anchor="middle" fill="#000" stroke="#000" stroke-width="0.05">0.07</text>
<text transform="translate(491.04,462.33) scale(1.1,1)" font-size="4.1" text-anchor="middle" fill="#000" stroke="#000" stroke-width="0.05">0.02</text>
<text transform="translate(503.87,462.33) scale(1.1,1)" font-size="4.1" text-anchor="middle" fill="#000" stroke="#000" stroke-width="0.05">-0.45</text>
<text transform="translate(516.7,462.33) scale(1.1,1)" font-size="4.1" text-anchor="middle" fill="#000" stroke="#000" stroke-width="0.05">-0.13</text>
<text transform="translate(529.52,462.33) scale(1.1,1)" font-size="4.1" text-anchor="middle" fill="#000" stroke="#000" stroke-width="0.05">1.00</text>
<text transform="translate(439.72,476.55) scale(1.1,1)" font-size="4.1" text-anchor="middle" fill="#000" stroke="#000" stroke-width="0.05">0.00</text>
<text transform="translate(452.55,476.55) scale(1.1,1)" font-size="4.1" text-anchor="middle" fill="#000" stroke="#000" stroke-width="0.05">-0.01</text>
<text transform="translate(465.38,476.55) scale(1.1,1)" font-size="4.1" text-anchor="middle" fill="#000" stroke="#000" stroke-width="0.05">-0.13</text>
<text transform="translate(478.21,476.55) scale(1.1,1)" font-size="4.1" text-anchor="middle" fill="#000" stroke="#000" stroke-width="0.05">-0.18</text>
<text transform="translate(491.04,476.55) scale(1.1,1)" font-size="4.1" text-anchor="middle" fill="#000" stroke="#000" stroke-width="0.05">-0.20</text>
<text transform="translate(503.87,476.55) scale(1.1,1)" font-size="4.1" text-anchor="middle" fill="#000" stroke="#000" stroke-width="0.05">-0.28</text>
<text transform="translate(516.7,476.55) scale(1.1,1)" font-size="4.1" text-anchor="middle" fill="#000" stroke="#000" stroke-width="0.05">-0.06</text>
<text transform="translate(529.52,476.55) scale(1.1,1)" font-size="4.1" text-anchor="middle" fill="#000" stroke="#000" stroke-width="0.05">0.06</text>
<text transform="translate(542.36,476.55) scale(1.1,1)" font-size="4.1" text-anchor="middle" fill="#000" stroke="#000" stroke-width="0.05">1.00</text>
<text transform="translate(439.72,490.77) scale(1.1,1)" font-size="4.1" text-anchor="middle" fill="#000" stroke="#000" stroke-width="0.05">-0.00</text>
<text transform="translate(452.55,490.77) scale(1.1,1)" font-size="4.1" text-anchor="middle" fill="#000" stroke="#000" stroke-width="0.05">-0.02</text>
<text transform="translate(465.38,490.77) scale(1.1,1)" font-size="4.1" text-anchor="middle" fill="#000" stroke="#000" stroke-width="0.05">0.03</text>
<text transform="translate(478.21,490.77) scale(1.1,1)" font-size="4.1" text-anchor="middle" fill="#000" stroke="#000" stroke-width="0.05">-0.02</text>
<text transform="translate(491.04,490.77) scale(1.1,1)" font-size="4.1" text-anchor="middle" fill="#000" stroke="#000" stroke-width="0.05">0.00</text>
<text transform="translate(503.87,490.77) scale(1.1,1)" font-size="4.1" text-anchor="middle" fill="#000" stroke="#000" stroke-width="0.05">0.04</text>
<text transform="translate(516.7,490.77) scale(1.1,1)" font-size="4.1" text-anchor="middle" fill="#000" stroke="#000" stroke-width="0.05">-0.42</text>
<text transform="translate(529.52,490.77) scale(1.1,1)" font-size="4.1" text-anchor="middle" fill="#000" stroke="#000" stroke-width="0.05">0.03</text>
<text transform="translate(542.36,490.77) scale(1.1,1)" font-size="4.1" text-anchor="middle" fill="#000" stroke="#000" stroke-width="0.05">-0.02</text>
<text transform="translate(555.19,490.77) scale(1.1,1)" font-size="4.1" text-anchor="middle" fill="#000" stroke="#000" stroke-width="0.05">1.00</text>
<text transform="translate(439.72,504.99) scale(1.1,1)" font-size="4.1" text-anchor="middle" fill="#000" stroke="#000" stroke-width="0.05">0.01</text>
<text transform="translate(452.55,504.99) scale(1.1,1)" font-size="4.1" text-anchor="middle" fill="#000" stroke="#000" stroke-width="0.05">-0.03</text>
<text transform="translate(465.38,504.99) scale(1.1,1)" font-size="4.1" text-anchor="middle" fill="#000" stroke="#000" stroke-width="0.05">-0.01</text>
<text transform="translate(478.21,504.99) scale(1.1,1)" font-size="4.1" text-anchor="middle" fill="#000" stroke="#000" stroke-width="0.05">-0.04</text>
<text transform="translate(491.04,504.99) scale(1.1,1)" font-size="4.1" text-anchor="middle" fill="#000" stroke="#000" stroke-width="0.05">-0.03</text>
<text transform="translate(503.87,504.99) scale(1.1,1)" font-size="4.1" text-anchor="middle" fill="#000" stroke="#000" stroke-width="0.05">-0.01</text>
<text transform="translate(516.7,504.99) scale(1.1,1)" font-size="4.1" text-anchor="middle" fill="#000" stroke="#000" stroke-width="0.05">-0.04</text>
<text transform="translate(529.52,504.99) scale(1.1,1)" font-size="4.1" text-anchor="middle" fill="#000" stroke="#000" stroke-width="0.05">-0.03</text>
<text transform="translate(542.36,504.99) scale(1.1,1)" font-size="4.1" text-anchor="middle" fill="#000" stroke="#000" stroke-width="0.05">-0.08</text>
<text transform="translate(555.19,504.99) scale(1.1,1)" font-size="4.1" text-anchor="middle" fill="#000" stroke="#000" stroke-width="0.05">0.01</text>
<text transform="translate(568.01,504.99) scale(1.1,1)" font-size="4.1" text-anchor="middle" fill="#000" stroke="#000" stroke-width="0.05">1.00</text>
<text transform="translate(439.72,519.21) scale(1.1,1)" font-size="4.1" text-anchor="middle" fill="#000" stroke="#000" stroke-width="0.05">0.00</text>
<text transform="translate(452.55,519.21) scale(1.1,1)" font-size="4.1" text-anchor="middle" fill="#000" stroke="#000" stroke-width="0.05">0.00</text>
<text transform="translate(465.38,519.21) scale(1.1,1)" font-size="4.1" text-anchor="middle" fill="#000" stroke="#000" stroke-width="0.05">0.02</text>
<text transform="translate(478.21,519.21) scale(1.1,1)" font-size="4.1" text-anchor="middle" fill="#000" stroke="#000" stroke-width="0.05">0.02</text>
<text transform="translate(491.04,519.21) scale(1.1,1)" font-size="4.1" text-anchor="middle" fill="#000" stroke="#000" stroke-width="0.05">0.02</text>
<text transform="translate(503.87,519.21) scale(1.1,1)" font-size="4.1" text-anchor="middle" fill="#000" stroke="#000" stroke-width="0.05">-0.04</text>
<text transform="translate(516.7,519.21) scale(1.1,1)" font-size="4.1" text-anchor="middle" fill="#000" stroke="#000" stroke-width="0.05">-0.10</text>
<text transform="translate(529.52,519.21) scale(1.1,1)" font-size="4.1" text-anchor="middle" fill="#000" stroke="#000" stroke-width="0.05">-0.11</text>
<text transform="translate(542.36,519.21) scale(1.1,1)" font-size="4.1" text-anchor="middle" fill="#000" stroke="#000" stroke-width="0.05">0.01</text>
<text transform="translate(555.19,519.21) scale(1.1,1)" font-size="4.1" text-anchor="middle" fill="#000" stroke="#000" stroke-width="0.05">0.03</text>
<text transform="translate(568.01,519.21) scale(1.1,1)" font-size="4.1" text-anchor="middle" fill="#000" stroke="#000" stroke-width="0.05">-0.08</text>
<text transform="translate(580.85,519.21) scale(1.1,1)" font-size="4.1" text-anchor="middle" fill="#000" stroke="#000" stroke-width="0.05">1.00</text>
<text transform="translate(439.72,533.43) scale(1.1,1)" font-size="4.1" text-anchor="middle" fill="#000" stroke="#000" stroke-width="0.05">-0.20</text>
<text transform="translate(452.55,533.43) scale(1.1,1)" font-size="4.1" text-anchor="middle" fill="#000" stroke="#000" stroke-width="0.05">-0.13</text>
<text transform="translate(465.38,533.43) scale(1.1,1)" font-size="4.1" text-anchor="middle" fill="#000" stroke="#000" stroke-width="0.05">0.04</text>
<text transform="translate(478.21,533.43) scale(1.1,1)" font-size="4.1" text-anchor="middle" fill="#000" stroke="#000" stroke-width="0.05">0.01</text>
<text transform="translate(491.04,533.43) scale(1.1,1)" font-size="4.1" text-anchor="middle" fill="#000" stroke="#000" stroke-width="0.05">0.00</text>
<text transform="translate(503.87,533.43) scale(1.1,1)" font-size="4.1" text-anchor="middle" fill="#000" stroke="#000" stroke-width="0.05">-0.01</text>
<text transform="translate(516.7,533.43) scale(1.1,1)" font-size="4.1" text-anchor="middle" fill="#000" stroke="#000" stroke-width="0.05">0.00</text>
<text transform="translate(529.52,533.43) scale(1.1,1)" font-size="4.1" text-anchor="middle" fill="#000" stroke="#000" stroke-width="0.05">0.00</text>
<text transform="translate(542.36,533.43) scale(1.1,1)" font-size="4.1" text-anchor="middle" fill="#000" stroke="#000" stroke-width="0.05">-0.08</text>
<text transform="translate(555.19,533.43) scale(1.1,1)" font-size="4.1" text-anchor="middle" fill="#000" stroke="#000" stroke-width="0.05">-0.06</text>
<text transform="translate(568.01,533.43) scale(1.1,1)" font-size="4.1" text-anchor="middle" fill="#000" stroke="#000" stroke-width="0.05">-0.03</text>
<text transform="translate(580.85,533.43) scale(1.1,1)" font-size="4.1" text-anchor="middle" fill="#000" stroke="#000" stroke-width="0.05">-0.01</text>
<text transform="translate(593.67,533.43) scale(1.1,1)" font-size="4.1" text-anchor="middle" fill="#000" stroke="#000" stroke-width="0.05">1.00</text>
<text transform="translate(439.72,547.65) scale(1.1,1)" font-size="4.1" text-anchor="middle" fill="#000" stroke="#000" stroke-width="0.05">-0.03</text>
<text transform="translate(452.55,547.65) scale(1.1,1)" font-size="4.1" text-anchor="middle" fill="#000" stroke="#000" stroke-width="0.05">-0.01</text>
<text transform="translate(465.38,547.65) scale(1.1,1)" font-size="4.1" text-anchor="middle" fill="#000" stroke="#000" stroke-width="0.05">-0.16</text>
<text transform="translate(478.21,547.65) scale(1.1,1)" font-size="4.1" text-anchor="middle" fill="#000" stroke="#000" stroke-width="0.05">-0.12</text>
<text transform="translate(491.04,547.65) scale(1.1,1)" font-size="4.1" text-anchor="middle" fill="#000" stroke="#000" stroke-width="0.05">-0.05</text>
<text transform="translate(503.87,547.65) scale(1.1,1)" font-size="4.1" text-anchor="middle" fill="#000" stroke="#000" stroke-width="0.05">0.08</text>
<text transform="translate(516.7,547.65) scale(1.1,1)" font-size="4.1" text-anchor="middle" fill="#000" stroke="#000" stroke-width="0.05">-0.01</text>
<text transform="translate(529.52,547.65) scale(1.1,1)" font-size="4.1" text-anchor="middle" fill="#000" stroke="#000" stroke-width="0.05">-0.03</text>
<text transform="translate(542.36,547.65) scale(1.1,1)" font-size="4.1" text-anchor="middle" fill="#000" stroke="#000" stroke-width="0.05">-0.08</text>
<text transform="translate(555.19,547.65) scale(1.1,1)" font-size="4.1" text-anchor="middle" fill="#000" stroke="#000" stroke-width="0.05">0.01</text>
<text transform="translate(568.01,547.65) scale(1.1,1)" font-size="4.1" text-anchor="middle" fill="#000" stroke="#000" stroke-width="0.05">-0.03</text>
<text transform="translate(580.85,547.65) scale(1.1,1)" font-size="4.1" text-anchor="middle" fill="#000" stroke="#000" stroke-width="0.05">0.00</text>
<text transform="translate(593.67,547.65) scale(1.1,1)" font-size="4.1" text-anchor="middle" fill="#000" stroke="#000" stroke-width="0.05">0.06</text>
<text transform="translate(606.5,547.65) scale(1.1,1)" font-size="4.1" text-anchor="middle" fill="#000" stroke="#000" stroke-width="0.05">1.00</text>
<text transform="translate(439.72,561.87) scale(1.1,1)" font-size="4.1" text-anchor="middle" fill="#000" stroke="#000" stroke-width="0.05">-0.00</text>
<text transform="translate(452.55,561.87) scale(1.1,1)" font-size="4.1" text-anchor="middle" fill="#000" stroke="#000" stroke-width="0.05">-0.01</text>
<text transform="translate(465.38,561.87) scale(1.1,1)" font-size="4.1" text-anchor="middle" fill="#000" stroke="#000" stroke-width="0.05">0.03</text>
<text transform="translate(478.21,561.87) scale(1.1,1)" font-size="4.1" text-anchor="middle" fill="#000" stroke="#000" stroke-width="0.05">0.02</text>
<text transform="translate(491.04,561.87) scale(1.1,1)" font-size="4.1" text-anchor="middle" fill="#000" stroke="#000" stroke-width="0.05">0.02</text>
<text transform="translate(503.87,561.87) scale(1.1,1)" font-size="4.1" text-anchor="middle" fill="#000" stroke="#000" stroke-width="0.05">-0.29</text>
<text transform="translate(516.7,561.87) scale(1.1,1)" font-size="4.1" text-anchor="middle" fill="#000" stroke="#000" stroke-width="0.05">-0.02</text>
<text transform="translate(529.52,561.87) scale(1.1,1)" font-size="4.1" text-anchor="middle" fill="#000" stroke="#000" stroke-width="0.05">-0.01</text>
<text transform="translate(542.36,561.87) scale(1.1,1)" font-size="4.1" text-anchor="middle" fill="#000" stroke="#000" stroke-width="0.05">0.02</text>
<text transform="translate(555.19,561.87) scale(1.1,1)" font-size="4.1" text-anchor="middle" fill="#000" stroke="#000" stroke-width="0.05">-0.08</text>
<text transform="translate(568.01,561.87) scale(1.1,1)" font-size="4.1" text-anchor="middle" fill="#000" stroke="#000" stroke-width="0.05">-0.03</text>
<text transform="translate(580.85,561.87) scale(1.1,1)" font-size="4.1" text-anchor="middle" fill="#000" stroke="#000" stroke-width="0.05">0.01</text>
<text transform="translate(593.67,561.87) scale(1.1,1)" font-size="4.1" text-anchor="middle" fill="#000" stroke="#000" stroke-width="0.05">0.05</text>
<text transform="translate(606.5,561.87) scale(1.1,1)" font-size="4.1" text-anchor="middle" fill="#000" stroke="#000" stroke-width="0.05">0.05</text>
<text transform="translate(619.34,561.87) scale(1.1,1)" font-size="4.1" text-anchor="middle" fill="#000" stroke="#000" stroke-width="0.05">1.00</text>
<text transform="translate(439.72,576.09) scale(1.1,1)" font-size="4.1" text-anchor="middle" fill="#000" stroke="#000" stroke-width="0.05">-0.00</text>
<text transform="translate(452.55,576.09) scale(1.1,1)" font-size="4.1" text-anchor="middle" fill="#000" stroke="#000" stroke-width="0.05">-0.00</text>
<text transform="translate(465.38,576.09) scale(1.1,1)" font-size="4.1" text-anchor="middle" fill="#000" stroke="#000" stroke-width="0.05">0.01</text>
<text transform="translate(478.21,576.09) scale(1.1,1)" font-size="4.1" text-anchor="middle" fill="#000" stroke="#000" stroke-width="0.05">-0.00</text>
<text transform="translate(491.04,576.09) scale(1.1,1)" font-size="4.1" text-anchor="middle" fill="#000" stroke="#000" stroke-width="0.05">-0.00</text>
<text transform="translate(503.87,576.09) scale(1.1,1)" font-size="4.1" text-anchor="middle" fill="#000" stroke="#000" stroke-width="0.05">0.00</text>
<text transform="translate(516.7,576.09) scale(1.1,1)" font-size="4.1" text-anchor="middle" fill="#000" stroke="#000" stroke-width="0.05">0.00</text>
<text transform="translate(529.52,576.09) scale(1.1,1)" font-size="4.1" text-anchor="middle" fill="#000" stroke="#000" stroke-width="0.05">0.00</text>
<text transform="translate(542.36,576.09) scale(1.1,1)" font-size="4.1" text-anchor="middle" fill="#000" stroke="#000" stroke-width="0.05">0.00</text>
<text transform="translate(555.19,576.09) scale(1.1,1)" font-size="4.1" text-anchor="middle" fill="#000" stroke="#000" stroke-width="0.05">0.00</text>
<text transform="translate(568.01,576.09) scale(1.1,1)" font-size="4.1" text-anchor="middle" fill="#000" stroke="#000" stroke-width="0.05">0.01</text>
<text transform="translate(580.85,576.09) scale(1.1,1)" font-size="4.1" text-anchor="middle" fill="#000" stroke="#000" stroke-width="0.05">-0.05</text>
<text transform="translate(593.67,576.09) scale(1.1,1)" font-size="4.1" text-anchor="middle" fill="#000" stroke="#000" stroke-width="0.05">0.01</text>
<text transform="translate(606.5,576.09) scale(1.1,1)" font-size="4.1" text-anchor="middle" fill="#000" stroke="#000" stroke-width="0.05">0.01</text>
<text transform="translate(619.34,576.09) scale(1.1,1)" font-size="4.1" text-anchor="middle" fill="#000" stroke="#000" stroke-width="0.05">0.01</text>
<text transform="translate(632.16,576.09) scale(1.1,1)" font-size="4.1" text-anchor="middle" fill="#000" stroke="#000" stroke-width="0.05">1.00</text>
<text transform="translate(429.9,363.02) scale(1.18,1)" font-size="6.7" text-anchor="end" fill="#111" stroke="#111" stroke-width="0.06">gg2H-0<tspan font-style="italic">j</tspan><tspan dx="1.2">-</tspan><tspan dx="0.3" font-style="italic">p</tspan><tspan dx="0.5" font-size="4.3" dy="-2.8">H</tspan><tspan font-size="4.3" dx="-3.05" dy="6.5">T</tspan><tspan dx="1.35" dy="-3.7">-Low</tspan></text>
<text transform="translate(429.9,377.24) scale(1.18,1)" font-size="6.7" text-anchor="end" fill="#111" stroke="#111" stroke-width="0.06">gg2H-0<tspan font-style="italic">j</tspan><tspan dx="1.2">-</tspan><tspan dx="0.3" font-style="italic">p</tspan><tspan dx="0.5" font-size="4.3" dy="-2.8">H</tspan><tspan font-size="4.3" dx="-3.05" dy="6.5">T</tspan><tspan dx="1.35" dy="-3.7">-High</tspan></text>
<text transform="translate(429.9,391.46) scale(1.18,1)" font-size="6.7" text-anchor="end" fill="#111" stroke="#111" stroke-width="0.06">gg2H-1<tspan font-style="italic">j</tspan><tspan dx="1.2">-</tspan><tspan dx="0.3" font-style="italic">p</tspan><tspan dx="0.5" font-size="4.3" dy="-2.8">H</tspan><tspan font-size="4.3" dx="-3.05" dy="6.5">T</tspan><tspan dx="1.35" dy="-3.7">-Low</tspan></text>
<text transform="translate(429.9,405.68) scale(1.18,1)" font-size="6.7" text-anchor="end" fill="#111" stroke="#111" stroke-width="0.06">gg2H-1<tspan font-style="italic">j</tspan><tspan dx="1.2">-</tspan><tspan dx="0.3" font-style="italic">p</tspan><tspan dx="0.5" font-size="4.3" dy="-2.8">H</tspan><tspan font-size="4.3" dx="-3.05" dy="6.5">T</tspan><tspan dx="1.35" dy="-3.7">-Med</tspan></text>
<text transform="translate(429.9,419.9) scale(1.18,1)" font-size="6.7" text-anchor="end" fill="#111" stroke="#111" stroke-width="0.06">gg2H-1<tspan font-style="italic">j</tspan><tspan dx="1.2">-</tspan><tspan dx="0.3" font-style="italic">p</tspan><tspan dx="0.5" font-size="4.3" dy="-2.8">H</tspan><tspan font-size="4.3" dx="-3.05" dy="6.5">T</tspan><tspan dx="1.35" dy="-3.7">-High</tspan></text>
<text transform="translate(429.9,434.12) scale(1.18,1)" font-size="6.7" text-anchor="end" fill="#111" stroke="#111" stroke-width="0.06">gg2H-2<tspan font-style="italic">j</tspan></text>
<text transform="translate(429.9,448.34) scale(1.18,1)" font-size="6.7" text-anchor="end" fill="#111" stroke="#111" stroke-width="0.06">gg2H-<tspan font-style="italic">p</tspan><tspan dx="0.5" font-size="4.3" dy="-2.8">H</tspan><tspan font-size="4.3" dx="-3.05" dy="6.5">T</tspan><tspan dx="1.35" dy="-3.7">-High</tspan></text>
<text transform="translate(429.9,462.56) scale(1.18,1)" font-size="6.7" text-anchor="end" fill="#111" stroke="#111" stroke-width="0.06">qq2Hqq-<tspan font-style="italic">VH</tspan></text>
<text transform="translate(429.9,476.78) scale(1.18,1)" font-size="6.7" text-anchor="end" fill="#111" stroke="#111" stroke-width="0.06">qq2Hqq-VBF</text>
<text transform="translate(429.9,491) scale(1.18,1)" font-size="6.7" text-anchor="end" fill="#111" stroke="#111" stroke-width="0.06">qq2Hqq-BSM</text>
<text transform="translate(429.9,505.22) scale(1.18,1)" font-size="6.7" text-anchor="end" fill="#111" stroke="#111" stroke-width="0.06"><tspan font-style="italic">VH</tspan>-Lep</text>
<text transform="translate(429.9,519.44) scale(1.18,1)" font-size="6.7" text-anchor="end" fill="#111" stroke="#111" stroke-width="0.06"><tspan font-style="italic">ttH</tspan></text>
<text transform="translate(429.9,533.66) scale(1.18,1)" font-size="6.7" text-anchor="end" fill="#111" stroke="#111" stroke-width="0.06"><tspan font-style="italic">ZZ-0j</tspan></text>
<text transform="translate(429.9,547.88) scale(1.18,1)" font-size="6.7" text-anchor="end" fill="#111" stroke="#111" stroke-width="0.06"><tspan font-style="italic">ZZ-1j</tspan></text>
<text transform="translate(429.9,562.1) scale(1.18,1)" font-size="6.7" text-anchor="end" fill="#111" stroke="#111" stroke-width="0.06"><tspan font-style="italic">ZZ-2j</tspan></text>
<text transform="translate(429.9,576.32) scale(1.18,1)" font-size="6.7" text-anchor="end" fill="#111" stroke="#111" stroke-width="0.06"><tspan font-style="italic">tXX</tspan></text>
<text transform="translate(441.33,584.72) rotate(-90) scale(1.18,1)" font-size="6.7" text-anchor="end" fill="#111" stroke="#111" stroke-width="0.06">gg2H-0<tspan font-style="italic">j</tspan><tspan dx="1.2">-</tspan><tspan dx="0.3" font-style="italic">p</tspan><tspan dx="0.5" font-size="4.3" dy="-2.8">H</tspan><tspan font-size="4.3" dx="-3.05" dy="6.5">T</tspan><tspan dx="1.35" dy="-3.7">-Low</tspan></text>
<text transform="translate(454.16,584.72) rotate(-90) scale(1.18,1)" font-size="6.7" text-anchor="end" fill="#111" stroke="#111" stroke-width="0.06">gg2H-0<tspan font-style="italic">j</tspan><tspan dx="1.2">-</tspan><tspan dx="0.3" font-style="italic">p</tspan><tspan dx="0.5" font-size="4.3" dy="-2.8">H</tspan><tspan font-size="4.3" dx="-3.05" dy="6.5">T</tspan><tspan dx="1.35" dy="-3.7">-High</tspan></text>
<text transform="translate(466.99,584.72) rotate(-90) scale(1.18,1)" font-size="6.7" text-anchor="end" fill="#111" stroke="#111" stroke-width="0.06">gg2H-1<tspan font-style="italic">j</tspan><tspan dx="1.2">-</tspan><tspan dx="0.3" font-style="italic">p</tspan><tspan dx="0.5" font-size="4.3" dy="-2.8">H</tspan><tspan font-size="4.3" dx="-3.05" dy="6.5">T</tspan><tspan dx="1.35" dy="-3.7">-Low</tspan></text>
<text transform="translate(479.82,584.72) rotate(-90) scale(1.18,1)" font-size="6.7" text-anchor="end" fill="#111" stroke="#111" stroke-width="0.06">gg2H-1<tspan font-style="italic">j</tspan><tspan dx="1.2">-</tspan><tspan dx="0.3" font-style="italic">p</tspan><tspan dx="0.5" font-size="4.3" dy="-2.8">H</tspan><tspan font-size="4.3" dx="-3.05" dy="6.5">T</tspan><tspan dx="1.35" dy="-3.7">-Med</tspan></text>
<text transform="translate(492.65,584.72) rotate(-90) scale(1.18,1)" font-size="6.7" text-anchor="end" fill="#111" stroke="#111" stroke-width="0.06">gg2H-1<tspan font-style="italic">j</tspan><tspan dx="1.2">-</tspan><tspan dx="0.3" font-style="italic">p</tspan><tspan dx="0.5" font-size="4.3" dy="-2.8">H</tspan><tspan font-size="4.3" dx="-3.05" dy="6.5">T</tspan><tspan dx="1.35" dy="-3.7">-High</tspan></text>
<text transform="translate(505.48,584.72) rotate(-90) scale(1.18,1)" font-size="6.7" text-anchor="end" fill="#111" stroke="#111" stroke-width="0.06">gg2H-2<tspan font-style="italic">j</tspan></text>
<text transform="translate(518.31,584.72) rotate(-90) scale(1.18,1)" font-size="6.7" text-anchor="end" fill="#111" stroke="#111" stroke-width="0.06">gg2H-<tspan font-style="italic">p</tspan><tspan dx="0.5" font-size="4.3" dy="-2.8">H</tspan><tspan font-size="4.3" dx="-3.05" dy="6.5">T</tspan><tspan dx="1.35" dy="-3.7">-High</tspan></text>
<text transform="translate(531.14,584.72) rotate(-90) scale(1.18,1)" font-size="6.7" text-anchor="end" fill="#111" stroke="#111" stroke-width="0.06">qq2Hqq-<tspan font-style="italic">VH</tspan></text>
<text transform="translate(543.97,584.72) rotate(-90) scale(1.18,1)" font-size="6.7" text-anchor="end" fill="#111" stroke="#111" stroke-width="0.06">qq2Hqq-VBF</text>
<text transform="translate(556.8,584.72) rotate(-90) scale(1.18,1)" font-size="6.7" text-anchor="end" fill="#111" stroke="#111" stroke-width="0.06">qq2Hqq-BSM</text>
<text transform="translate(569.63,584.72) rotate(-90) scale(1.18,1)" font-size="6.7" text-anchor="end" fill="#111" stroke="#111" stroke-width="0.06"><tspan font-style="italic">VH</tspan>-Lep</text>
<text transform="translate(582.46,584.72) rotate(-90) scale(1.18,1)" font-size="6.7" text-anchor="end" fill="#111" stroke="#111" stroke-width="0.06"><tspan font-style="italic">ttH</tspan></text>
<text transform="translate(595.29,584.72) rotate(-90) scale(1.18,1)" font-size="6.7" text-anchor="end" fill="#111" stroke="#111" stroke-width="0.06"><tspan font-style="italic">ZZ-0j</tspan></text>
<text transform="translate(608.12,584.72) rotate(-90) scale(1.18,1)" font-size="6.7" text-anchor="end" fill="#111" stroke="#111" stroke-width="0.06"><tspan font-style="italic">ZZ-1j</tspan></text>
<text transform="translate(620.95,584.72) rotate(-90) scale(1.18,1)" font-size="6.7" text-anchor="end" fill="#111" stroke="#111" stroke-width="0.06"><tspan font-style="italic">ZZ-2j</tspan></text>
<text transform="translate(633.78,584.72) rotate(-90) scale(1.18,1)" font-size="6.7" text-anchor="end" fill="#111" stroke="#111" stroke-width="0.06"><tspan font-style="italic">tXX</tspan></text>
<defs><linearGradient id="gd" x1="0" y1="0" x2="0" y2="1"><stop offset="0%" stop-color="#c14a28"/><stop offset="4%" stop-color="#d66e5a"/><stop offset="8%" stop-color="#ec969b"/><stop offset="10%" stop-color="#f1acb5"/><stop offset="20%" stop-color="#f5c3c9"/><stop offset="30%" stop-color="#f9d7db"/><stop offset="40%" stop-color="#fce9eb"/><stop offset="50%" stop-color="#ffffff"/><stop offset="60%" stop-color="#dce9f6"/><stop offset="70%" stop-color="#b2d0ec"/><stop offset="80%" stop-color="#8cb8e2"/><stop offset="90%" stop-color="#6096d0"/><stop offset="95%" stop-color="#467abe"/><stop offset="100%" stop-color="#2a5ba8"/></linearGradient></defs>
<rect x="639.4" y="353.6" width="15.2" height="228" fill="url(#gd)"/>
<line x1="654.6" y1="353.6" x2="654.6" y2="581.6" stroke="#333" stroke-width="1.0"/>
<text transform="translate(656.5,358.7) scale(1.16,1)" font-size="12.6">1</text>
<line x1="647.1" y1="376.4" x2="654.6" y2="376.4" stroke="#444" stroke-width="1.0"/>
<text transform="translate(656.5,381.3) scale(1.16,1)" font-size="12.6">0.8</text>
<line x1="647.1" y1="399.2" x2="654.6" y2="399.2" stroke="#444" stroke-width="1.0"/>
<text transform="translate(656.5,404.1) scale(1.16,1)" font-size="12.6">0.6</text>
<line x1="647.1" y1="422" x2="654.6" y2="422" stroke="#444" stroke-width="1.0"/>
<text transform="translate(656.5,426.9) scale(1.16,1)" font-size="12.6">0.4</text>
<line x1="647.1" y1="444.8" x2="654.6" y2="444.8" stroke="#444" stroke-width="1.0"/>
<text transform="translate(656.5,449.7) scale(1.16,1)" font-size="12.6">0.2</text>
<line x1="647.1" y1="467.6" x2="654.6" y2="467.6" stroke="#444" stroke-width="1.0"/>
<text transform="translate(656.5,472.5) scale(1.16,1)" font-size="12.6">0</text>
<line x1="647.1" y1="490.4" x2="654.6" y2="490.4" stroke="#444" stroke-width="1.0"/>
<text transform="translate(656.5,495.3) scale(1.16,1)" font-size="12.6">−<tspan dx="-0.9">0.2</tspan></text>
<line x1="647.1" y1="513.2" x2="654.6" y2="513.2" stroke="#444" stroke-width="1.0"/>
<text transform="translate(656.5,518.1) scale(1.16,1)" font-size="12.6">−<tspan dx="-0.9">0.4</tspan></text>
<line x1="647.1" y1="536" x2="654.6" y2="536" stroke="#444" stroke-width="1.0"/>
<text transform="translate(656.5,540.9) scale(1.16,1)" font-size="12.6">−<tspan dx="-0.9">0.6</tspan></text>
<line x1="647.1" y1="558.8" x2="654.6" y2="558.8" stroke="#444" stroke-width="1.0"/>
<text transform="translate(656.5,563.7) scale(1.16,1)" font-size="12.6">−<tspan dx="-0.9">0.8</tspan></text>
<text transform="translate(656.5,587.8) scale(1.16,1)" font-size="12.6">−<tspan dx="-0.9">1</tspan></text>
<text transform="translate(505,376.9) scale(1.09,1)" font-size="14" font-weight="bold" font-style="italic">ATLAS</text>
<text transform="translate(503.39,389.6) scale(1.1,1)" font-size="12.6">H</text>
<path d="M516.37 386.98 H528.02 M525.42 385.28 L528.02 386.98 L525.42 388.68" fill="none" stroke="#333" stroke-width="0.85"/>
<text transform="translate(532.08,389.6) scale(1.1,1)" font-size="12.6">ZZ</text>
<text transform="translate(550.11,388.55) scale(1.1,1)" font-size="10.08">*</text>
<path d="M557.42 386.98 H568.87 M566.27 385.28 L568.87 386.98 L566.27 388.68" fill="none" stroke="#333" stroke-width="0.85"/>
<text transform="translate(573.01,389.6) scale(1.1,1)" font-size="12.6">4l</text>
<path d="M504.3 396.1 L505.37 395.4 L506.44 400.8 L507.52 392.3 H513.32" fill="none" stroke="#222" stroke-width="0.75" stroke-linejoin="miter"/>
<path d="M505.37 395.4 L506.44 400.8" stroke="#000" stroke-width="1.5"/>
<text transform="translate(508.16,401) scale(1.075,1)" font-size="9">s = 13 TeV, 139 fb<tspan font-size="5.85" dy="-3.5">-1</tspan></text>
<text x="523" y="671.2" font-size="16" text-anchor="middle" font-weight="bold">(d)</text>
</svg></body></html>
